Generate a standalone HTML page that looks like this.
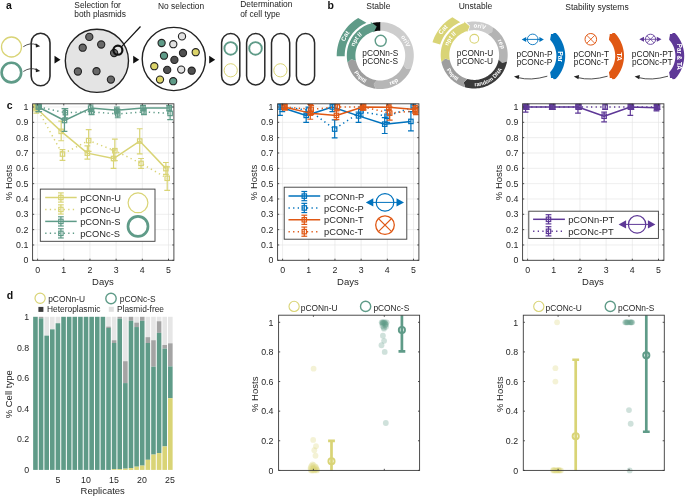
<!DOCTYPE html>
<html><head><meta charset="utf-8"><style>html,body{margin:0;padding:0;background:#fff;width:685px;height:497px;overflow:hidden} svg text{font-family:"Liberation Sans", sans-serif}</style></head>
<body><svg width="685" height="497" viewBox="0 0 685 497" style="display:block;will-change:transform"><text x="6.00" y="8.90" font-size="10.5" text-anchor="start" fill="#111" font-weight="bold" >a</text>
<circle cx="11.5" cy="47" r="10" fill="none" stroke="#d9d476" stroke-width="1.3"/>
<circle cx="11.4" cy="72.6" r="9.8" fill="none" stroke="#5f9b88" stroke-width="2.6"/>
<rect x="31.2" y="33.3" width="18.8" height="52.4" rx="9.4" fill="none" stroke="#2a2a2a" stroke-width="1.6"/>
<path d="M23.3 46.699999999999996 Q30.5 41.9 37 45.099999999999994" fill="none" stroke="#333" stroke-width="0.85"/>
<path d="M40.2 46.199999999999996 L35.6 43.199999999999996 L35.9 47.4 Z" fill="#222"/>
<path d="M23.3 71.5 Q30.5 66.69999999999999 37 69.89999999999999" fill="none" stroke="#333" stroke-width="0.85"/>
<path d="M40.2 71.0 L35.6 68.0 L35.9 72.19999999999999 Z" fill="#222"/>
<path d="M54.5 55.8 L60.5 59.7 L54.5 63.6 Z" fill="#111"/>
<path d="M133.2 55.8 L139.2 59.7 L133.2 63.6 Z" fill="#111"/>
<path d="M209.2 55.8 L215.2 59.7 L209.2 63.6 Z" fill="#111"/>
<circle cx="96.9" cy="60.8" r="31.6" fill="#e4e4e4" stroke="#222" stroke-width="1.4"/>
<circle cx="89.3" cy="36.9" r="3.6" fill="#686868" stroke="#222" stroke-width="1.1"/>
<circle cx="82.7" cy="47.7" r="3.6" fill="#686868" stroke="#222" stroke-width="1.1"/>
<circle cx="101.2" cy="44.5" r="3.6" fill="#686868" stroke="#222" stroke-width="1.1"/>
<circle cx="114.1" cy="53" r="3.6" fill="#686868" stroke="#222" stroke-width="1.1"/>
<circle cx="77.9" cy="71.5" r="3.6" fill="#686868" stroke="#222" stroke-width="1.1"/>
<circle cx="96.5" cy="71.2" r="3.6" fill="#686868" stroke="#222" stroke-width="1.1"/>
<circle cx="110.9" cy="79.6" r="3.6" fill="#686868" stroke="#222" stroke-width="1.1"/>
<circle cx="117.9" cy="50.2" r="4.5" fill="none" stroke="#111" stroke-width="2.2"/>
<line x1="121.4" y1="46.8" x2="140.5" y2="26.5" stroke="#111" stroke-width="1.2"/>
<circle cx="173.8" cy="59" r="31.6" fill="#fff" stroke="#222" stroke-width="1.4"/>
<circle cx="182" cy="36.4" r="3.6" fill="#e2e2e2" stroke="#222" stroke-width="1.1"/>
<circle cx="161.6" cy="43" r="3.6" fill="#5f9b88" stroke="#222" stroke-width="1.1"/>
<circle cx="173.3" cy="44.2" r="3.6" fill="#e2e2e2" stroke="#222" stroke-width="1.1"/>
<circle cx="183" cy="53" r="3.6" fill="#505050" stroke="#222" stroke-width="1.1"/>
<circle cx="195.7" cy="52.2" r="3.6" fill="#dcd46a" stroke="#222" stroke-width="1.1"/>
<circle cx="164" cy="55.7" r="3.6" fill="#5f9b88" stroke="#222" stroke-width="1.1"/>
<circle cx="174.4" cy="59.9" r="3.6" fill="#505050" stroke="#222" stroke-width="1.1"/>
<circle cx="154.3" cy="66.2" r="3.6" fill="#dcd46a" stroke="#222" stroke-width="1.1"/>
<circle cx="167.2" cy="69.9" r="3.6" fill="#505050" stroke="#222" stroke-width="1.1"/>
<circle cx="181.2" cy="69.6" r="3.6" fill="#e2e2e2" stroke="#222" stroke-width="1.1"/>
<circle cx="191.7" cy="70.7" r="3.6" fill="#505050" stroke="#222" stroke-width="1.1"/>
<circle cx="160" cy="79.6" r="3.6" fill="#dcd46a" stroke="#222" stroke-width="1.1"/>
<circle cx="173.2" cy="81.2" r="3.6" fill="#5f9b88" stroke="#222" stroke-width="1.1"/>
<rect x="221.6" y="33.6" width="18.2" height="51.4" rx="9.1" fill="none" stroke="#2a2a2a" stroke-width="1.5"/>
<rect x="246.6" y="33.6" width="18.2" height="51.4" rx="9.1" fill="none" stroke="#2a2a2a" stroke-width="1.5"/>
<rect x="271.5" y="33.6" width="18.2" height="51.4" rx="9.1" fill="none" stroke="#2a2a2a" stroke-width="1.5"/>
<rect x="296.4" y="33.6" width="18.2" height="51.4" rx="9.1" fill="none" stroke="#2a2a2a" stroke-width="1.5"/>
<circle cx="230.7" cy="48.4" r="6.3" fill="none" stroke="#5f9b88" stroke-width="1.9"/>
<circle cx="255.5" cy="48.4" r="6.3" fill="none" stroke="#5f9b88" stroke-width="1.9"/>
<circle cx="230.7" cy="70.3" r="6.6" fill="none" stroke="#d9d476" stroke-width="1"/>
<circle cx="280.4" cy="70.3" r="6.6" fill="none" stroke="#d9d476" stroke-width="1"/>
<text x="74.30" y="7.50" font-size="8.4" text-anchor="start" fill="#222" font-weight="normal" >Selection for</text>
<text x="74.30" y="16.70" font-size="8.4" text-anchor="start" fill="#222" font-weight="normal" >both plasmids</text>
<text x="158.00" y="9.40" font-size="8.4" text-anchor="start" fill="#222" font-weight="normal" >No selection</text>
<text x="240.20" y="6.90" font-size="8.4" text-anchor="start" fill="#222" font-weight="normal" >Determination</text>
<text x="240.20" y="16.60" font-size="8.4" text-anchor="start" fill="#222" font-weight="normal" >of cell type</text>
<text x="327.60" y="8.60" font-size="10.5" text-anchor="start" fill="#111" font-weight="bold" >b</text>
<text x="378.40" y="9.40" font-size="8.5" text-anchor="middle" fill="#222" font-weight="normal" >Stable</text>
<text x="475.50" y="9.20" font-size="8.5" text-anchor="middle" fill="#222" font-weight="normal" >Unstable</text>
<text x="597.00" y="9.70" font-size="8.5" text-anchor="middle" fill="#222" font-weight="normal" >Stability systems</text>
<path d="M380.30 22.10 L382.07 22.15 L383.83 22.29 L385.59 22.52 L387.33 22.85 L389.05 23.26 L390.74 23.77 L392.41 24.36 L394.04 25.05 L395.64 25.82 L397.19 26.67 L398.69 27.60 L400.14 28.61 L401.54 29.70 L402.88 30.85 L404.16 32.08 L405.36 33.37 L406.50 34.73 L407.57 36.14 L408.56 37.61 L409.47 39.12 L410.30 40.69 L411.04 42.29 L411.70 43.93 L412.28 45.61 L412.76 47.31 L413.15 49.04 L413.45 50.78 L413.66 52.54 L413.77 54.30 L413.80 56.07 L413.72 57.84 L413.56 59.60 L413.30 61.35 L412.95 63.09 L412.51 64.80 L411.98 66.49 L411.36 68.15 L406.32 68.86 L403.39 64.93 L403.85 63.70 L404.24 62.44 L404.57 61.17 L404.83 59.88 L405.02 58.58 L405.14 57.27 L405.20 55.95 L405.18 54.64 L405.10 53.32 L404.94 52.02 L404.72 50.72 L404.43 49.44 L404.07 48.17 L403.64 46.93 L403.15 45.71 L402.60 44.52 L401.98 43.35 L401.30 42.23 L400.57 41.14 L399.78 40.09 L398.93 39.08 L398.03 38.12 L397.08 37.21 L396.09 36.35 L395.05 35.54 L393.97 34.79 L392.85 34.09 L391.70 33.46 L390.51 32.89 L389.30 32.38 L388.06 31.94 L386.80 31.56 L385.52 31.25 L384.23 31.01 L382.93 30.84 L381.61 30.73 L380.30 30.70 Z" fill="#cdcdcd"/>
<path d="M411.36 68.15 L410.65 69.78 L409.86 71.37 L408.98 72.91 L408.02 74.41 L406.98 75.85 L405.87 77.24 L404.69 78.57 L403.44 79.83 L402.12 81.02 L400.74 82.14 L399.30 83.19 L397.81 84.16 L396.27 85.05 L394.69 85.85 L393.07 86.57 L391.41 87.21 L389.71 87.75 L388.00 88.20 L386.26 88.57 L384.50 88.84 L382.73 89.01 L380.95 89.09 L379.18 89.08 L377.40 88.97 L375.64 88.77 L373.73 84.05 L376.83 80.26 L378.15 80.41 L379.47 80.49 L380.79 80.50 L382.11 80.43 L383.42 80.30 L384.73 80.10 L386.02 79.83 L387.30 79.50 L388.55 79.09 L389.79 78.62 L391.00 78.09 L392.17 77.49 L393.32 76.83 L394.42 76.11 L395.49 75.33 L396.52 74.49 L397.50 73.61 L398.43 72.67 L399.31 71.69 L400.13 70.65 L400.90 69.58 L401.62 68.47 L402.27 67.32 L402.86 66.14 L403.39 64.93 L406.32 68.86 Z" fill="#b6b6b6"/>
<path d="M375.64 88.77 L373.88 88.48 L372.15 88.09 L370.43 87.61 L368.75 87.04 L367.09 86.39 L365.48 85.64 L363.90 84.81 L362.38 83.90 L360.90 82.91 L359.48 81.84 L358.11 80.70 L356.81 79.48 L355.58 78.20 L354.41 76.86 L353.32 75.45 L352.30 73.99 L351.36 72.48 L350.51 70.92 L349.74 69.32 L349.05 67.68 L348.46 66.00 L347.95 64.29 L347.53 62.57 L351.32 59.16 L355.94 60.78 L356.25 62.06 L356.63 63.33 L357.07 64.58 L357.58 65.80 L358.16 66.99 L358.79 68.15 L359.49 69.27 L360.24 70.36 L361.06 71.40 L361.92 72.40 L362.84 73.35 L363.81 74.26 L364.82 75.10 L365.88 75.90 L366.98 76.64 L368.11 77.31 L369.28 77.93 L370.48 78.48 L371.71 78.97 L372.97 79.40 L374.24 79.75 L375.53 80.04 L376.83 80.26 L373.73 84.05 Z" fill="#9e9e9e"/>
<path d="M371.63 23.24 L373.33 22.83 L375.06 22.51 L376.80 22.28 L378.55 22.15 L380.30 22.10 L380.30 30.70 L379.00 30.73 L377.70 30.84 L376.40 31.01 L375.12 31.24 L373.86 31.55 Z" fill="#0a0a0a"/>
<path d="M347.53 62.57 L347.21 60.80 L346.97 59.02 L346.84 57.23 L346.80 55.43 L346.86 53.64 L347.01 51.85 L347.26 50.07 L347.60 48.31 L348.04 46.57 L348.57 44.85 L349.19 43.17 L349.90 41.52 L350.70 39.91 L351.58 38.35 L352.55 36.83 L353.60 35.37 L354.72 33.97 L355.91 32.63 L357.18 31.36 L358.51 30.15 L359.91 29.02 L361.36 27.97 L362.87 26.99 L364.43 26.10 L366.03 25.29 L367.67 24.57 L369.35 23.94 L371.07 23.40 L370.63 21.86 L376.74 26.62 L373.70 32.59 L373.44 31.66 L372.16 32.07 L370.91 32.54 L369.69 33.07 L368.50 33.67 L367.34 34.34 L366.22 35.06 L365.14 35.85 L364.11 36.69 L363.11 37.58 L362.17 38.53 L361.29 39.52 L360.45 40.57 L359.67 41.65 L358.96 42.78 L358.30 43.94 L357.71 45.13 L357.18 46.36 L356.72 47.61 L356.32 48.89 L356.00 50.18 L355.74 51.49 L355.56 52.81 L355.44 54.14 L355.40 55.48 L355.43 56.81 L355.53 58.14 L355.70 59.46 L355.94 60.78 L351.32 59.16 Z" fill="#5f9b88"/>
<path d="M336.71 56.36 L336.73 54.06 L336.87 51.76 L337.13 49.48 L337.52 47.21 L338.02 44.96 L338.64 42.74 L339.38 40.56 L340.23 38.42 L341.19 36.33 L342.26 34.30 L343.44 32.32 L344.72 30.41 L346.10 28.56 L347.57 26.80 L349.14 25.11 L350.79 23.51 L352.52 21.99 L354.34 20.57 L356.22 19.25 L358.17 18.03 L366.39 22.83 L366.39 22.83 L364.64 23.63 L362.94 24.52 L361.29 25.50 L359.70 26.57 L358.16 27.72 L356.69 28.96 L355.29 30.27 L353.96 31.65 L352.70 33.11 L351.53 34.63 L350.44 36.21 L349.44 37.85 L348.53 39.54 L347.71 41.28 L346.98 43.05 L346.36 44.87 L345.83 46.71 L345.40 48.59 L345.07 50.48 L344.85 52.38 L344.72 54.30 L344.71 56.22 Z" fill="#5f9b88"/>
<path id="tp1" d="M345.97 72.35 A38.2 38.2 0 0 1 376.31 17.61" fill="none"/>
<text font-size="6.3" font-weight="bold" fill="#fff"><textPath href="#tp1" startOffset="50%" text-anchor="middle">Cat</textPath></text>
<path id="tp2" d="M354.63 65.46 A27.5 27.5 0 0 1 379.82 28.10" fill="none"/>
<text font-size="6.0" font-weight="bold" fill="#fff"><textPath href="#tp2" startOffset="50%" text-anchor="middle">npt II</textPath></text>
<path id="tp3" d="M382.70 28.20 A27.5 27.5 0 0 1 405.22 67.22" fill="none"/>
<text font-size="6.0" font-weight="bold" fill="#fff"><textPath href="#tp3" startOffset="50%" text-anchor="middle">oriV</textPath></text>
<path id="tp4" d="M365.61 83.24 A31.3 31.3 0 0 0 411.30 59.96" fill="none"/>
<text font-size="6.0" font-weight="bold" fill="#fff"><textPath href="#tp4" startOffset="50%" text-anchor="middle">rep</textPath></text>
<path id="tp5" d="M349.30 51.24 A31.3 31.3 0 0 0 386.81 86.22" fill="none"/>
<text font-size="5.5" font-weight="bold" fill="#fff"><textPath href="#tp5" startOffset="50%" text-anchor="middle">PnptII</textPath></text>
<circle cx="380.7" cy="40.8" r="5.5" fill="none" stroke="#5f9b88" stroke-width="1.4"/>
<text x="380.30" y="56.40" font-size="8.3" text-anchor="middle" fill="#1a1a1a" font-weight="normal" >pCONn-S</text>
<text x="380.30" y="64.30" font-size="8.3" text-anchor="middle" fill="#1a1a1a" font-weight="normal" >pCONc-S</text>
<path d="M466.66 22.36 L468.42 22.00 L470.19 21.74 L471.98 21.57 L473.77 21.50 L475.56 21.53 L477.35 21.65 L479.13 21.87 L480.90 22.18 L482.64 22.58 L484.37 23.08 L486.06 23.67 L487.72 24.35 L489.34 25.12 L490.92 25.97 L492.45 26.90 L492.18 31.99 L487.76 34.12 L486.62 33.42 L485.45 32.79 L484.25 32.22 L483.02 31.71 L481.76 31.27 L480.48 30.90 L479.18 30.60 L477.87 30.37 L476.54 30.21 L475.21 30.12 L473.88 30.10 L472.55 30.15 L471.22 30.28 L469.90 30.47 L468.60 30.74 L470.14 26.08 Z" fill="#cbcbcb"/>
<path d="M492.45 26.90 L493.93 27.93 L495.36 29.03 L496.73 30.21 L498.04 31.46 L499.27 32.78 L500.43 34.17 L501.52 35.61 L502.52 37.11 L503.45 38.67 L504.29 40.27 L505.04 41.91 L505.70 43.59 L506.27 45.31 L506.74 47.05 L507.12 48.82 L507.41 50.60 L507.60 52.40 L507.69 54.20 L507.68 56.01 L507.58 57.81 L507.38 59.61 L507.08 61.39 L502.27 63.05 L498.64 59.75 L498.86 58.43 L499.01 57.09 L499.09 55.75 L499.09 54.41 L499.02 53.07 L498.88 51.73 L498.67 50.40 L498.39 49.09 L498.03 47.80 L497.61 46.52 L497.12 45.27 L496.56 44.05 L495.94 42.86 L495.25 41.70 L494.51 40.59 L493.70 39.51 L492.84 38.49 L491.92 37.51 L490.95 36.58 L489.93 35.70 L488.87 34.88 L487.76 34.12 L492.18 31.99 Z" fill="#b4b4b4"/>
<path d="M507.08 61.39 L506.70 63.14 L506.21 64.87 L505.64 66.56 L504.98 68.23 L504.23 69.85 L503.39 71.44 L502.47 72.98 L501.47 74.46 L500.39 75.89 L499.23 77.26 L498.01 78.57 L496.71 79.81 L495.36 80.97 L493.94 82.07 L492.46 83.09 L490.93 84.02 L489.36 84.87 L487.74 85.64 L486.08 86.32 L484.39 86.91 L482.67 87.41 L480.93 87.82 L479.16 88.13 L477.38 88.35 L475.60 88.47 L473.80 88.50 L472.01 88.43 L470.23 88.26 L468.46 88.00 L466.70 87.65 L464.97 87.20 L463.74 82.26 L467.34 78.94 L468.63 79.27 L469.93 79.53 L471.25 79.72 L472.57 79.85 L473.91 79.90 L475.24 79.88 L476.57 79.79 L477.89 79.63 L479.20 79.39 L480.50 79.09 L481.77 78.72 L483.03 78.28 L484.26 77.78 L485.47 77.21 L486.64 76.57 L487.77 75.88 L488.87 75.12 L489.92 74.31 L490.93 73.44 L491.90 72.52 L492.81 71.55 L493.67 70.53 L494.47 69.47 L495.21 68.36 L495.90 67.22 L496.52 66.04 L497.08 64.83 L497.57 63.60 L498.00 62.33 L498.35 61.05 L498.64 59.75 L502.27 63.05 Z" fill="#3a3a3a"/>
<path d="M464.97 87.20 L463.24 86.66 L461.54 86.02 L459.88 85.29 L458.27 84.47 L456.70 83.56 L455.18 82.58 L453.71 81.51 L452.31 80.36 L450.97 79.14 L449.70 77.85 L448.50 76.49 L447.38 75.07 L446.33 73.59 L445.37 72.05 L444.49 70.47 L443.69 68.84 L442.99 67.17 L442.38 65.46 L441.86 63.73 L441.43 61.97 L445.22 58.56 L449.84 60.18 L450.16 61.49 L450.55 62.78 L451.00 64.04 L451.52 65.29 L452.11 66.50 L452.77 67.68 L453.48 68.82 L454.26 69.92 L455.10 70.97 L455.99 71.98 L456.93 72.94 L457.93 73.85 L458.97 74.70 L460.06 75.50 L461.19 76.23 L462.36 76.90 L463.56 77.51 L464.79 78.05 L466.05 78.53 L467.34 78.94 L463.74 82.26 Z" fill="#9e9e9e"/>
<path d="M441.43 61.97 L441.11 60.22 L440.88 58.46 L440.74 56.69 L440.70 54.92 L440.75 53.14 L440.90 51.37 L441.14 49.62 L441.47 47.87 L441.89 46.15 L442.40 44.45 L443.01 42.78 L443.70 41.15 L444.48 39.55 L445.34 38.00 L446.28 36.49 L447.30 35.04 L448.39 33.64 L449.56 32.31 L450.79 31.03 L452.10 29.83 L453.46 28.69 L454.88 27.63 L456.36 26.65 L457.89 25.74 L459.46 24.92 L461.07 24.18 L462.72 23.53 L464.41 22.96 L464.00 21.62 L469.63 26.16 L467.17 31.99 L466.92 31.19 L465.67 31.61 L464.44 32.09 L463.24 32.64 L462.07 33.25 L460.94 33.92 L459.84 34.66 L458.78 35.45 L457.77 36.29 L456.80 37.19 L455.88 38.13 L455.02 39.13 L454.20 40.16 L453.44 41.24 L452.75 42.36 L452.11 43.52 L451.53 44.70 L451.02 45.92 L450.57 47.16 L450.18 48.42 L449.87 49.70 L449.62 51.00 L449.45 52.30 L449.34 53.62 L449.30 54.94 L449.33 56.26 L449.43 57.57 L449.60 58.88 L449.84 60.18 L445.22 58.56 Z" fill="#d9d476"/>
<path d="M432.51 42.25 L433.25 40.04 L434.11 37.86 L435.08 35.74 L436.17 33.67 L437.37 31.67 L438.67 29.73 L440.08 27.86 L441.58 26.07 L443.18 24.36 L444.86 22.74 L446.64 21.22 L448.48 19.79 L450.41 18.46 L452.40 17.24 L460.29 22.23 L460.29 22.23 L458.52 23.04 L456.81 23.94 L455.14 24.93 L453.53 26.02 L451.98 27.19 L450.49 28.44 L449.08 29.77 L447.74 31.18 L446.48 32.66 L445.31 34.20 L444.22 35.81 L443.22 37.47 L442.31 39.18 L441.49 40.95 L440.77 42.75 L440.16 44.59 Z" fill="#d9d476"/>
<path id="tp6" d="M437.48 65.53 A38.2 38.2 0 0 1 476.86 16.89" fill="none"/>
<text font-size="6.3" font-weight="bold" fill="#fff"><textPath href="#tp6" startOffset="50%" text-anchor="middle">Cat</textPath></text>
<path id="tp7" d="M448.53 64.86 A27.5 27.5 0 0 1 473.72 27.50" fill="none"/>
<text font-size="6.0" font-weight="bold" fill="#fff"><textPath href="#tp7" startOffset="50%" text-anchor="middle">npt II</textPath></text>
<path id="tp8" d="M455.10 35.22 A27.5 27.5 0 0 1 499.32 43.81" fill="none"/>
<text font-size="6.0" font-weight="bold" fill="#fff"><textPath href="#tp8" startOffset="50%" text-anchor="middle">oriV</textPath></text>
<path id="tp9" d="M480.39 28.20 A27.5 27.5 0 0 1 497.26 69.98" fill="none"/>
<text font-size="6.0" font-weight="bold" fill="#fff"><textPath href="#tp9" startOffset="50%" text-anchor="middle">rep</textPath></text>
<path id="tp10" d="M461.97 83.81 A31.3 31.3 0 0 0 505.46 56.64" fill="none"/>
<text font-size="5.6" font-weight="bold" fill="#fff"><textPath href="#tp10" startOffset="50%" text-anchor="middle">random DNA</textPath></text>
<path id="tp11" d="M443.70 47.96 A31.3 31.3 0 0 0 478.01 86.07" fill="none"/>
<text font-size="5.5" font-weight="bold" fill="#fff"><textPath href="#tp11" startOffset="50%" text-anchor="middle">PnptII</textPath></text>
<circle cx="474.3" cy="38.8" r="4.4" fill="none" stroke="#d9d476" stroke-width="1.1"/>
<text x="475.00" y="56.10" font-size="8.3" text-anchor="middle" fill="#1a1a1a" font-weight="normal" >pCONn-U</text>
<text x="475.00" y="64.10" font-size="8.3" text-anchor="middle" fill="#1a1a1a" font-weight="normal" >pCONc-U</text>
<path d="M550.13 39.67 L550.43 37.38 L550.82 35.81 L550.95 34.05 L552.96 33.99 L553.85 32.89 L555.88 32.94 L555.88 32.94 L557.07 34.23 L558.19 35.59 L559.23 37.01 L560.20 38.47 L561.09 39.99 L561.89 41.55 L562.62 43.16 L563.25 44.80 L563.80 46.47 L564.26 48.16 L564.63 49.88 L564.91 51.62 L565.10 53.37 L565.19 55.12 L565.19 56.88 L565.10 58.63 L564.91 60.38 L564.63 62.12 L564.26 63.84 L563.80 65.53 L563.25 67.20 L562.62 68.84 L561.89 70.45 L561.09 72.01 L560.20 73.53 L559.23 74.99 L558.19 76.41 L557.07 77.77 L555.88 79.06 L555.88 79.06 L553.77 79.18 L552.93 78.05 L550.95 77.95 L550.86 76.15 L550.49 74.56 L550.13 72.33 L550.13 72.33 L550.96 71.36 L551.74 70.34 L552.46 69.29 L553.13 68.20 L553.74 67.08 L554.29 65.92 L554.78 64.74 L555.21 63.54 L555.57 62.32 L555.87 61.07 L556.10 59.82 L556.27 58.55 L556.37 57.28 L556.40 56.00 L556.37 54.72 L556.27 53.45 L556.10 52.18 L555.87 50.93 L555.57 49.68 L555.21 48.46 L554.78 47.26 L554.29 46.08 L553.74 44.92 L553.13 43.80 L552.46 42.71 L551.74 41.66 L550.96 40.64 L550.13 39.67 Z" fill="#0072bd"/>
<text x="0" y="0" font-size="6.9" font-weight="bold" fill="#fff" text-anchor="middle" transform="translate(560.39 56.74) rotate(90) translate(0 2.48)">Par</text>
<text x="534.50" y="56.50" font-size="8.3" text-anchor="middle" fill="#1a1a1a" font-weight="normal" >pCONn-P</text>
<text x="534.50" y="65.00" font-size="8.3" text-anchor="middle" fill="#1a1a1a" font-weight="normal" >pCONc-P</text>
<path d="M547.3 76.2 Q530.65 81 518.0 77.6" fill="none" stroke="#222" stroke-width="0.8"/>
<path d="M514.0 76.6 L519.3 74.9 L518.6 79.3 Z" fill="#222"/>
<path d="M608.93 39.67 L609.23 37.38 L609.62 35.81 L609.75 34.05 L611.76 33.99 L612.65 32.89 L614.68 32.94 L614.68 32.94 L615.87 34.23 L616.99 35.59 L618.03 37.01 L619.00 38.47 L619.89 39.99 L620.69 41.55 L621.42 43.16 L622.05 44.80 L622.60 46.47 L623.06 48.16 L623.43 49.88 L623.71 51.62 L623.90 53.37 L623.99 55.12 L623.99 56.88 L623.90 58.63 L623.71 60.38 L623.43 62.12 L623.06 63.84 L622.60 65.53 L622.05 67.20 L621.42 68.84 L620.69 70.45 L619.89 72.01 L619.00 73.53 L618.03 74.99 L616.99 76.41 L615.87 77.77 L614.68 79.06 L614.68 79.06 L612.57 79.18 L611.73 78.05 L609.75 77.95 L609.66 76.15 L609.29 74.56 L608.93 72.33 L608.93 72.33 L609.76 71.36 L610.54 70.34 L611.26 69.29 L611.93 68.20 L612.54 67.08 L613.09 65.92 L613.58 64.74 L614.01 63.54 L614.37 62.32 L614.67 61.07 L614.90 59.82 L615.07 58.55 L615.17 57.28 L615.20 56.00 L615.17 54.72 L615.07 53.45 L614.90 52.18 L614.67 50.93 L614.37 49.68 L614.01 48.46 L613.58 47.26 L613.09 46.08 L612.54 44.92 L611.93 43.80 L611.26 42.71 L610.54 41.66 L609.76 40.64 L608.93 39.67 Z" fill="#e05814"/>
<text x="0" y="0" font-size="6.9" font-weight="bold" fill="#fff" text-anchor="middle" transform="translate(619.19 56.74) rotate(90) translate(0 2.48)">TA</text>
<text x="591.30" y="56.50" font-size="8.3" text-anchor="middle" fill="#1a1a1a" font-weight="normal" >pCONn-T</text>
<text x="591.30" y="65.00" font-size="8.3" text-anchor="middle" fill="#1a1a1a" font-weight="normal" >pCONc-T</text>
<path d="M607.6 76.2 Q590.7 81 577.8 77.6" fill="none" stroke="#222" stroke-width="0.8"/>
<path d="M573.8 76.6 L579.0999999999999 74.9 L578.4 79.3 Z" fill="#222"/>
<path d="M669.13 39.67 L669.43 37.38 L669.82 35.81 L669.95 34.05 L671.96 33.99 L672.85 32.89 L674.88 32.94 L674.88 32.94 L676.07 34.23 L677.19 35.59 L678.23 37.01 L679.20 38.47 L680.09 39.99 L680.89 41.55 L681.62 43.16 L682.25 44.80 L682.80 46.47 L683.26 48.16 L683.63 49.88 L683.91 51.62 L684.10 53.37 L684.19 55.12 L684.19 56.88 L684.10 58.63 L683.91 60.38 L683.63 62.12 L683.26 63.84 L682.80 65.53 L682.25 67.20 L681.62 68.84 L680.89 70.45 L680.09 72.01 L679.20 73.53 L678.23 74.99 L677.19 76.41 L676.07 77.77 L674.88 79.06 L674.88 79.06 L672.77 79.18 L671.93 78.05 L669.95 77.95 L669.86 76.15 L669.49 74.56 L669.13 72.33 L669.13 72.33 L669.96 71.36 L670.74 70.34 L671.46 69.29 L672.13 68.20 L672.74 67.08 L673.29 65.92 L673.78 64.74 L674.21 63.54 L674.57 62.32 L674.87 61.07 L675.10 59.82 L675.27 58.55 L675.37 57.28 L675.40 56.00 L675.37 54.72 L675.27 53.45 L675.10 52.18 L674.87 50.93 L674.57 49.68 L674.21 48.46 L673.78 47.26 L673.29 46.08 L672.74 44.92 L672.13 43.80 L671.46 42.71 L670.74 41.66 L669.96 40.64 L669.13 39.67 Z" fill="#5e3897"/>
<text x="0" y="0" font-size="6.3" font-weight="bold" fill="#fff" text-anchor="middle" transform="translate(679.39 56.74) rotate(90) translate(0 2.27)">Par &amp; TA</text>
<text x="652.30" y="56.50" font-size="8.3" text-anchor="middle" fill="#1a1a1a" font-weight="normal" >pCONn-PT</text>
<text x="652.30" y="65.00" font-size="8.3" text-anchor="middle" fill="#1a1a1a" font-weight="normal" >pCONc-PT</text>
<path d="M668.0 76.2 Q651.3 81 638.6 77.6" fill="none" stroke="#222" stroke-width="0.8"/>
<path d="M634.6 76.6 L639.9 74.9 L639.2 79.3 Z" fill="#222"/>
<circle cx="532.7" cy="39.4" r="5.3" fill="none" stroke="#0072bd" stroke-width="0.9"/>
<line x1="525.5" y1="39.4" x2="540.2" y2="39.4" stroke="#0072bd" stroke-width="0.9"/>
<path d="M521.7 39.4 L526.2 36.9 L526.2 41.9 Z M543.9 39.4 L539.4 36.9 L539.4 41.9 Z" fill="#0072bd"/>
<circle cx="590.8" cy="39.3" r="5.8" fill="none" stroke="#e05814" stroke-width="1"/>
<path d="M586.7 35.2 L594.9 43.4 M594.9 35.2 L586.7 43.4" stroke="#e05814" stroke-width="0.9"/>
<circle cx="650.5" cy="39.3" r="5.1" fill="none" stroke="#5e3897" stroke-width="0.9"/>
<path d="M646.9 35.7 L654.1 42.9 M654.1 35.7 L646.9 42.9" stroke="#5e3897" stroke-width="0.8"/>
<line x1="643.5" y1="39.3" x2="657.5" y2="39.3" stroke="#5e3897" stroke-width="0.8"/>
<path d="M639.3 39.3 L644 36.8 L644 41.8 Z M661.5 39.3 L656.8 36.8 L656.8 41.8 Z" fill="#5e3897"/>
<text x="6.80" y="109.20" font-size="10.5" text-anchor="start" fill="#111" font-weight="bold" >c</text>
<clipPath id="clipc0"><rect x="32.6" y="103.8" width="141.3" height="156.5"/></clipPath>
<line x1="32.6" y1="260.30" x2="173.9" y2="260.30" stroke="#e3e3e3" stroke-width="0.6"/>
<line x1="32.6" y1="244.97" x2="173.9" y2="244.97" stroke="#e3e3e3" stroke-width="0.6"/>
<line x1="32.6" y1="229.64" x2="173.9" y2="229.64" stroke="#e3e3e3" stroke-width="0.6"/>
<line x1="32.6" y1="214.31" x2="173.9" y2="214.31" stroke="#e3e3e3" stroke-width="0.6"/>
<line x1="32.6" y1="198.98" x2="173.9" y2="198.98" stroke="#e3e3e3" stroke-width="0.6"/>
<line x1="32.6" y1="183.65" x2="173.9" y2="183.65" stroke="#e3e3e3" stroke-width="0.6"/>
<line x1="32.6" y1="168.32" x2="173.9" y2="168.32" stroke="#e3e3e3" stroke-width="0.6"/>
<line x1="32.6" y1="152.99" x2="173.9" y2="152.99" stroke="#e3e3e3" stroke-width="0.6"/>
<line x1="32.6" y1="137.66" x2="173.9" y2="137.66" stroke="#e3e3e3" stroke-width="0.6"/>
<line x1="32.6" y1="122.33" x2="173.9" y2="122.33" stroke="#e3e3e3" stroke-width="0.6"/>
<line x1="32.6" y1="107.00" x2="173.9" y2="107.00" stroke="#e3e3e3" stroke-width="0.6"/>
<line x1="37.60" y1="103.8" x2="37.60" y2="260.3" stroke="#e3e3e3" stroke-width="0.6"/>
<line x1="63.78" y1="103.8" x2="63.78" y2="260.3" stroke="#e3e3e3" stroke-width="0.6"/>
<line x1="89.96" y1="103.8" x2="89.96" y2="260.3" stroke="#e3e3e3" stroke-width="0.6"/>
<line x1="116.14" y1="103.8" x2="116.14" y2="260.3" stroke="#e3e3e3" stroke-width="0.6"/>
<line x1="142.32" y1="103.8" x2="142.32" y2="260.3" stroke="#e3e3e3" stroke-width="0.6"/>
<line x1="168.50" y1="103.8" x2="168.50" y2="260.3" stroke="#e3e3e3" stroke-width="0.6"/>
<g clip-path="url(#clipc0)">
<polyline points="36.30,107.00 62.48,154.06 88.66,140.57 114.84,150.69 141.02,163.41 167.20,178.28" fill="none" stroke="#d9d476" stroke-width="1.5" stroke-dasharray="1.3 3.3" stroke-linejoin="round"/>
<line x1="36.30" y1="113.13" x2="36.30" y2="107.00" stroke="#d9d476" stroke-width="1.2"/>
<line x1="33.40" y1="113.13" x2="39.20" y2="113.13" stroke="#d9d476" stroke-width="1.2"/>
<line x1="33.40" y1="107.00" x2="39.20" y2="107.00" stroke="#d9d476" stroke-width="1.2"/>
<rect x="34.10" y="104.80" width="4.4" height="4.4" fill="none" stroke="#d9d476" stroke-width="1.2"/>
<line x1="62.48" y1="160.35" x2="62.48" y2="149.62" stroke="#d9d476" stroke-width="1.2"/>
<line x1="59.58" y1="160.35" x2="65.38" y2="160.35" stroke="#d9d476" stroke-width="1.2"/>
<line x1="59.58" y1="149.62" x2="65.38" y2="149.62" stroke="#d9d476" stroke-width="1.2"/>
<rect x="60.28" y="151.86" width="4.4" height="4.4" fill="none" stroke="#d9d476" stroke-width="1.2"/>
<line x1="88.66" y1="151.46" x2="88.66" y2="129.54" stroke="#d9d476" stroke-width="1.2"/>
<line x1="85.76" y1="151.46" x2="91.56" y2="151.46" stroke="#d9d476" stroke-width="1.2"/>
<line x1="85.76" y1="129.54" x2="91.56" y2="129.54" stroke="#d9d476" stroke-width="1.2"/>
<rect x="86.46" y="138.37" width="4.4" height="4.4" fill="none" stroke="#d9d476" stroke-width="1.2"/>
<line x1="114.84" y1="160.66" x2="114.84" y2="139.19" stroke="#d9d476" stroke-width="1.2"/>
<line x1="111.94" y1="160.66" x2="117.74" y2="160.66" stroke="#d9d476" stroke-width="1.2"/>
<line x1="111.94" y1="139.19" x2="117.74" y2="139.19" stroke="#d9d476" stroke-width="1.2"/>
<rect x="112.64" y="148.49" width="4.4" height="4.4" fill="none" stroke="#d9d476" stroke-width="1.2"/>
<line x1="141.02" y1="168.32" x2="141.02" y2="158.51" stroke="#d9d476" stroke-width="1.2"/>
<line x1="138.12" y1="168.32" x2="143.92" y2="168.32" stroke="#d9d476" stroke-width="1.2"/>
<line x1="138.12" y1="158.51" x2="143.92" y2="158.51" stroke="#d9d476" stroke-width="1.2"/>
<rect x="138.82" y="161.21" width="4.4" height="4.4" fill="none" stroke="#d9d476" stroke-width="1.2"/>
<line x1="167.20" y1="190.40" x2="167.20" y2="166.79" stroke="#d9d476" stroke-width="1.2"/>
<line x1="164.30" y1="190.40" x2="170.10" y2="190.40" stroke="#d9d476" stroke-width="1.2"/>
<line x1="164.30" y1="166.79" x2="170.10" y2="166.79" stroke="#d9d476" stroke-width="1.2"/>
<rect x="165.00" y="176.08" width="4.4" height="4.4" fill="none" stroke="#d9d476" stroke-width="1.2"/>
</g>
<g clip-path="url(#clipc0)">
<polyline points="35.00,107.00 61.18,131.37 87.36,153.14 113.54,158.51 139.72,141.03 165.90,168.63" fill="none" stroke="#d9d476" stroke-width="1.5"  stroke-linejoin="round"/>
<line x1="35.00" y1="110.83" x2="35.00" y2="105.47" stroke="#d9d476" stroke-width="1.2"/>
<line x1="32.10" y1="110.83" x2="37.90" y2="110.83" stroke="#d9d476" stroke-width="1.2"/>
<line x1="32.10" y1="105.47" x2="37.90" y2="105.47" stroke="#d9d476" stroke-width="1.2"/>
<rect x="32.80" y="104.80" width="4.4" height="4.4" fill="none" stroke="#d9d476" stroke-width="1.2"/>
<line x1="61.18" y1="140.73" x2="61.18" y2="121.10" stroke="#d9d476" stroke-width="1.2"/>
<line x1="58.28" y1="140.73" x2="64.08" y2="140.73" stroke="#d9d476" stroke-width="1.2"/>
<line x1="58.28" y1="121.10" x2="64.08" y2="121.10" stroke="#d9d476" stroke-width="1.2"/>
<rect x="58.98" y="129.17" width="4.4" height="4.4" fill="none" stroke="#d9d476" stroke-width="1.2"/>
<line x1="87.36" y1="159.12" x2="87.36" y2="145.78" stroke="#d9d476" stroke-width="1.2"/>
<line x1="84.46" y1="159.12" x2="90.26" y2="159.12" stroke="#d9d476" stroke-width="1.2"/>
<line x1="84.46" y1="145.78" x2="90.26" y2="145.78" stroke="#d9d476" stroke-width="1.2"/>
<rect x="85.16" y="150.94" width="4.4" height="4.4" fill="none" stroke="#d9d476" stroke-width="1.2"/>
<line x1="113.54" y1="168.32" x2="113.54" y2="149.92" stroke="#d9d476" stroke-width="1.2"/>
<line x1="110.64" y1="168.32" x2="116.44" y2="168.32" stroke="#d9d476" stroke-width="1.2"/>
<line x1="110.64" y1="149.92" x2="116.44" y2="149.92" stroke="#d9d476" stroke-width="1.2"/>
<rect x="111.34" y="156.31" width="4.4" height="4.4" fill="none" stroke="#d9d476" stroke-width="1.2"/>
<line x1="139.72" y1="153.91" x2="139.72" y2="128.77" stroke="#d9d476" stroke-width="1.2"/>
<line x1="136.82" y1="153.91" x2="142.62" y2="153.91" stroke="#d9d476" stroke-width="1.2"/>
<line x1="136.82" y1="128.77" x2="142.62" y2="128.77" stroke="#d9d476" stroke-width="1.2"/>
<rect x="137.52" y="138.83" width="4.4" height="4.4" fill="none" stroke="#d9d476" stroke-width="1.2"/>
<line x1="165.90" y1="174.45" x2="165.90" y2="162.49" stroke="#d9d476" stroke-width="1.2"/>
<line x1="163.00" y1="174.45" x2="168.80" y2="174.45" stroke="#d9d476" stroke-width="1.2"/>
<line x1="163.00" y1="162.49" x2="168.80" y2="162.49" stroke="#d9d476" stroke-width="1.2"/>
<rect x="163.70" y="166.43" width="4.4" height="4.4" fill="none" stroke="#d9d476" stroke-width="1.2"/>
</g>
<g clip-path="url(#clipc0)">
<polyline points="39.20,107.00 65.38,112.67 91.56,111.91 117.74,113.90 143.92,111.91 170.10,113.44" fill="none" stroke="#5f9b88" stroke-width="1.5" stroke-dasharray="1.3 3.3" stroke-linejoin="round"/>
<line x1="39.20" y1="111.60" x2="39.20" y2="103.93" stroke="#5f9b88" stroke-width="1.2"/>
<line x1="36.30" y1="111.60" x2="42.10" y2="111.60" stroke="#5f9b88" stroke-width="1.2"/>
<line x1="36.30" y1="103.93" x2="42.10" y2="103.93" stroke="#5f9b88" stroke-width="1.2"/>
<rect x="37.00" y="104.80" width="4.4" height="4.4" fill="none" stroke="#5f9b88" stroke-width="1.2"/>
<line x1="65.38" y1="117.73" x2="65.38" y2="108.53" stroke="#5f9b88" stroke-width="1.2"/>
<line x1="62.48" y1="117.73" x2="68.28" y2="117.73" stroke="#5f9b88" stroke-width="1.2"/>
<line x1="62.48" y1="108.53" x2="68.28" y2="108.53" stroke="#5f9b88" stroke-width="1.2"/>
<rect x="63.18" y="110.47" width="4.4" height="4.4" fill="none" stroke="#5f9b88" stroke-width="1.2"/>
<line x1="91.56" y1="114.67" x2="91.56" y2="108.53" stroke="#5f9b88" stroke-width="1.2"/>
<line x1="88.66" y1="114.67" x2="94.46" y2="114.67" stroke="#5f9b88" stroke-width="1.2"/>
<line x1="88.66" y1="108.53" x2="94.46" y2="108.53" stroke="#5f9b88" stroke-width="1.2"/>
<rect x="89.36" y="109.71" width="4.4" height="4.4" fill="none" stroke="#5f9b88" stroke-width="1.2"/>
<line x1="117.74" y1="117.73" x2="117.74" y2="109.30" stroke="#5f9b88" stroke-width="1.2"/>
<line x1="114.84" y1="117.73" x2="120.64" y2="117.73" stroke="#5f9b88" stroke-width="1.2"/>
<line x1="114.84" y1="109.30" x2="120.64" y2="109.30" stroke="#5f9b88" stroke-width="1.2"/>
<rect x="115.54" y="111.70" width="4.4" height="4.4" fill="none" stroke="#5f9b88" stroke-width="1.2"/>
<line x1="143.92" y1="114.67" x2="143.92" y2="108.53" stroke="#5f9b88" stroke-width="1.2"/>
<line x1="141.02" y1="114.67" x2="146.82" y2="114.67" stroke="#5f9b88" stroke-width="1.2"/>
<line x1="141.02" y1="108.53" x2="146.82" y2="108.53" stroke="#5f9b88" stroke-width="1.2"/>
<rect x="141.72" y="109.71" width="4.4" height="4.4" fill="none" stroke="#5f9b88" stroke-width="1.2"/>
<line x1="170.10" y1="119.57" x2="170.10" y2="107.00" stroke="#5f9b88" stroke-width="1.2"/>
<line x1="167.20" y1="119.57" x2="173.00" y2="119.57" stroke="#5f9b88" stroke-width="1.2"/>
<line x1="167.20" y1="107.00" x2="173.00" y2="107.00" stroke="#5f9b88" stroke-width="1.2"/>
<rect x="167.90" y="111.24" width="4.4" height="4.4" fill="none" stroke="#5f9b88" stroke-width="1.2"/>
</g>
<g clip-path="url(#clipc0)">
<polyline points="38.30,107.00 64.48,120.49 90.66,108.07 116.84,110.37 143.02,108.07 169.20,108.07" fill="none" stroke="#5f9b88" stroke-width="1.5"  stroke-linejoin="round"/>
<line x1="38.30" y1="111.60" x2="38.30" y2="103.93" stroke="#5f9b88" stroke-width="1.2"/>
<line x1="35.40" y1="111.60" x2="41.20" y2="111.60" stroke="#5f9b88" stroke-width="1.2"/>
<line x1="35.40" y1="103.93" x2="41.20" y2="103.93" stroke="#5f9b88" stroke-width="1.2"/>
<rect x="36.10" y="104.80" width="4.4" height="4.4" fill="none" stroke="#5f9b88" stroke-width="1.2"/>
<line x1="64.48" y1="131.37" x2="64.48" y2="108.53" stroke="#5f9b88" stroke-width="1.2"/>
<line x1="61.58" y1="131.37" x2="67.38" y2="131.37" stroke="#5f9b88" stroke-width="1.2"/>
<line x1="61.58" y1="108.53" x2="67.38" y2="108.53" stroke="#5f9b88" stroke-width="1.2"/>
<rect x="62.28" y="118.29" width="4.4" height="4.4" fill="none" stroke="#5f9b88" stroke-width="1.2"/>
<line x1="90.66" y1="111.60" x2="90.66" y2="103.93" stroke="#5f9b88" stroke-width="1.2"/>
<line x1="87.76" y1="111.60" x2="93.56" y2="111.60" stroke="#5f9b88" stroke-width="1.2"/>
<line x1="87.76" y1="103.93" x2="93.56" y2="103.93" stroke="#5f9b88" stroke-width="1.2"/>
<rect x="88.46" y="105.87" width="4.4" height="4.4" fill="none" stroke="#5f9b88" stroke-width="1.2"/>
<line x1="116.84" y1="113.90" x2="116.84" y2="107.00" stroke="#5f9b88" stroke-width="1.2"/>
<line x1="113.94" y1="113.90" x2="119.74" y2="113.90" stroke="#5f9b88" stroke-width="1.2"/>
<line x1="113.94" y1="107.00" x2="119.74" y2="107.00" stroke="#5f9b88" stroke-width="1.2"/>
<rect x="114.64" y="108.17" width="4.4" height="4.4" fill="none" stroke="#5f9b88" stroke-width="1.2"/>
<line x1="143.02" y1="110.83" x2="143.02" y2="105.47" stroke="#5f9b88" stroke-width="1.2"/>
<line x1="140.12" y1="110.83" x2="145.92" y2="110.83" stroke="#5f9b88" stroke-width="1.2"/>
<line x1="140.12" y1="105.47" x2="145.92" y2="105.47" stroke="#5f9b88" stroke-width="1.2"/>
<rect x="140.82" y="105.87" width="4.4" height="4.4" fill="none" stroke="#5f9b88" stroke-width="1.2"/>
<line x1="169.20" y1="110.83" x2="169.20" y2="105.47" stroke="#5f9b88" stroke-width="1.2"/>
<line x1="166.30" y1="110.83" x2="172.10" y2="110.83" stroke="#5f9b88" stroke-width="1.2"/>
<line x1="166.30" y1="105.47" x2="172.10" y2="105.47" stroke="#5f9b88" stroke-width="1.2"/>
<rect x="167.00" y="105.87" width="4.4" height="4.4" fill="none" stroke="#5f9b88" stroke-width="1.2"/>
</g>
<rect x="32.6" y="103.8" width="141.3" height="156.5" fill="none" stroke="#3a3a3a" stroke-width="0.9"/>
<line x1="32.6" y1="260.30" x2="34.2" y2="260.30" stroke="#3a3a3a" stroke-width="0.9"/>
<line x1="172.3" y1="260.30" x2="173.9" y2="260.30" stroke="#3a3a3a" stroke-width="0.9"/>
<text x="28.30" y="263.30" font-size="8.8" text-anchor="end" fill="#262626" font-weight="normal" >0</text>
<line x1="32.6" y1="244.97" x2="34.2" y2="244.97" stroke="#3a3a3a" stroke-width="0.9"/>
<line x1="172.3" y1="244.97" x2="173.9" y2="244.97" stroke="#3a3a3a" stroke-width="0.9"/>
<text x="28.30" y="247.97" font-size="8.8" text-anchor="end" fill="#262626" font-weight="normal" >0.1</text>
<line x1="32.6" y1="229.64" x2="34.2" y2="229.64" stroke="#3a3a3a" stroke-width="0.9"/>
<line x1="172.3" y1="229.64" x2="173.9" y2="229.64" stroke="#3a3a3a" stroke-width="0.9"/>
<text x="28.30" y="232.64" font-size="8.8" text-anchor="end" fill="#262626" font-weight="normal" >0.2</text>
<line x1="32.6" y1="214.31" x2="34.2" y2="214.31" stroke="#3a3a3a" stroke-width="0.9"/>
<line x1="172.3" y1="214.31" x2="173.9" y2="214.31" stroke="#3a3a3a" stroke-width="0.9"/>
<text x="28.30" y="217.31" font-size="8.8" text-anchor="end" fill="#262626" font-weight="normal" >0.3</text>
<line x1="32.6" y1="198.98" x2="34.2" y2="198.98" stroke="#3a3a3a" stroke-width="0.9"/>
<line x1="172.3" y1="198.98" x2="173.9" y2="198.98" stroke="#3a3a3a" stroke-width="0.9"/>
<text x="28.30" y="201.98" font-size="8.8" text-anchor="end" fill="#262626" font-weight="normal" >0.4</text>
<line x1="32.6" y1="183.65" x2="34.2" y2="183.65" stroke="#3a3a3a" stroke-width="0.9"/>
<line x1="172.3" y1="183.65" x2="173.9" y2="183.65" stroke="#3a3a3a" stroke-width="0.9"/>
<text x="28.30" y="186.65" font-size="8.8" text-anchor="end" fill="#262626" font-weight="normal" >0.5</text>
<line x1="32.6" y1="168.32" x2="34.2" y2="168.32" stroke="#3a3a3a" stroke-width="0.9"/>
<line x1="172.3" y1="168.32" x2="173.9" y2="168.32" stroke="#3a3a3a" stroke-width="0.9"/>
<text x="28.30" y="171.32" font-size="8.8" text-anchor="end" fill="#262626" font-weight="normal" >0.6</text>
<line x1="32.6" y1="152.99" x2="34.2" y2="152.99" stroke="#3a3a3a" stroke-width="0.9"/>
<line x1="172.3" y1="152.99" x2="173.9" y2="152.99" stroke="#3a3a3a" stroke-width="0.9"/>
<text x="28.30" y="155.99" font-size="8.8" text-anchor="end" fill="#262626" font-weight="normal" >0.7</text>
<line x1="32.6" y1="137.66" x2="34.2" y2="137.66" stroke="#3a3a3a" stroke-width="0.9"/>
<line x1="172.3" y1="137.66" x2="173.9" y2="137.66" stroke="#3a3a3a" stroke-width="0.9"/>
<text x="28.30" y="140.66" font-size="8.8" text-anchor="end" fill="#262626" font-weight="normal" >0.8</text>
<line x1="32.6" y1="122.33" x2="34.2" y2="122.33" stroke="#3a3a3a" stroke-width="0.9"/>
<line x1="172.3" y1="122.33" x2="173.9" y2="122.33" stroke="#3a3a3a" stroke-width="0.9"/>
<text x="28.30" y="125.33" font-size="8.8" text-anchor="end" fill="#262626" font-weight="normal" >0.9</text>
<line x1="32.6" y1="107.00" x2="34.2" y2="107.00" stroke="#3a3a3a" stroke-width="0.9"/>
<line x1="172.3" y1="107.00" x2="173.9" y2="107.00" stroke="#3a3a3a" stroke-width="0.9"/>
<text x="28.30" y="110.00" font-size="8.8" text-anchor="end" fill="#262626" font-weight="normal" >1</text>
<line x1="37.60" y1="260.3" x2="37.60" y2="258.7" stroke="#3a3a3a" stroke-width="0.9"/>
<line x1="37.60" y1="103.8" x2="37.60" y2="105.39999999999999" stroke="#3a3a3a" stroke-width="0.9"/>
<text x="37.60" y="273.20" font-size="8.8" text-anchor="middle" fill="#262626" font-weight="normal" >0</text>
<line x1="63.78" y1="260.3" x2="63.78" y2="258.7" stroke="#3a3a3a" stroke-width="0.9"/>
<line x1="63.78" y1="103.8" x2="63.78" y2="105.39999999999999" stroke="#3a3a3a" stroke-width="0.9"/>
<text x="63.78" y="273.20" font-size="8.8" text-anchor="middle" fill="#262626" font-weight="normal" >1</text>
<line x1="89.96" y1="260.3" x2="89.96" y2="258.7" stroke="#3a3a3a" stroke-width="0.9"/>
<line x1="89.96" y1="103.8" x2="89.96" y2="105.39999999999999" stroke="#3a3a3a" stroke-width="0.9"/>
<text x="89.96" y="273.20" font-size="8.8" text-anchor="middle" fill="#262626" font-weight="normal" >2</text>
<line x1="116.14" y1="260.3" x2="116.14" y2="258.7" stroke="#3a3a3a" stroke-width="0.9"/>
<line x1="116.14" y1="103.8" x2="116.14" y2="105.39999999999999" stroke="#3a3a3a" stroke-width="0.9"/>
<text x="116.14" y="273.20" font-size="8.8" text-anchor="middle" fill="#262626" font-weight="normal" >3</text>
<line x1="142.32" y1="260.3" x2="142.32" y2="258.7" stroke="#3a3a3a" stroke-width="0.9"/>
<line x1="142.32" y1="103.8" x2="142.32" y2="105.39999999999999" stroke="#3a3a3a" stroke-width="0.9"/>
<text x="142.32" y="273.20" font-size="8.8" text-anchor="middle" fill="#262626" font-weight="normal" >4</text>
<line x1="168.50" y1="260.3" x2="168.50" y2="258.7" stroke="#3a3a3a" stroke-width="0.9"/>
<line x1="168.50" y1="103.8" x2="168.50" y2="105.39999999999999" stroke="#3a3a3a" stroke-width="0.9"/>
<text x="168.50" y="273.20" font-size="8.8" text-anchor="middle" fill="#262626" font-weight="normal" >5</text>
<text x="102.85" y="284.80" font-size="9.5" text-anchor="middle" fill="#262626" font-weight="normal" >Days</text>
<text x="0" y="0" font-size="9.5" text-anchor="middle" fill="#262626" transform="translate(11.8 182.5) rotate(-90)">% Hosts</text>
<rect x="40.3" y="189.1" width="114.7" height="52.2" fill="#fff" stroke="#3a3a3a" stroke-width="0.9"/>
<line x1="45.2" y1="197.5" x2="76.7" y2="197.5" stroke="#d9d476" stroke-width="1.5" />
<line x1="60.9" y1="192.9" x2="60.9" y2="202.1" stroke="#d9d476" stroke-width="1.2"/>
<line x1="58.0" y1="192.9" x2="63.8" y2="192.9" stroke="#d9d476" stroke-width="1.2"/>
<line x1="58.0" y1="202.1" x2="63.8" y2="202.1" stroke="#d9d476" stroke-width="1.2"/>
<rect x="58.699999999999996" y="195.3" width="4.4" height="4.4" fill="none" stroke="#d9d476" stroke-width="1.2"/>
<text x="80.20" y="201.00" font-size="9.3" text-anchor="start" fill="#262626" font-weight="normal" >pCONn-U</text>
<line x1="45.2" y1="209.45" x2="76.7" y2="209.45" stroke="#d9d476" stroke-width="1.5" stroke-dasharray="1.3 3.3"/>
<line x1="60.9" y1="204.85" x2="60.9" y2="214.04999999999998" stroke="#d9d476" stroke-width="1.2"/>
<line x1="58.0" y1="204.85" x2="63.8" y2="204.85" stroke="#d9d476" stroke-width="1.2"/>
<line x1="58.0" y1="214.04999999999998" x2="63.8" y2="214.04999999999998" stroke="#d9d476" stroke-width="1.2"/>
<rect x="58.699999999999996" y="207.25" width="4.4" height="4.4" fill="none" stroke="#d9d476" stroke-width="1.2"/>
<text x="80.20" y="212.95" font-size="9.3" text-anchor="start" fill="#262626" font-weight="normal" >pCONc-U</text>
<line x1="45.2" y1="221.4" x2="76.7" y2="221.4" stroke="#5f9b88" stroke-width="1.5" />
<line x1="60.9" y1="216.8" x2="60.9" y2="226.0" stroke="#5f9b88" stroke-width="1.2"/>
<line x1="58.0" y1="216.8" x2="63.8" y2="216.8" stroke="#5f9b88" stroke-width="1.2"/>
<line x1="58.0" y1="226.0" x2="63.8" y2="226.0" stroke="#5f9b88" stroke-width="1.2"/>
<rect x="58.699999999999996" y="219.20000000000002" width="4.4" height="4.4" fill="none" stroke="#5f9b88" stroke-width="1.2"/>
<text x="80.20" y="224.90" font-size="9.3" text-anchor="start" fill="#262626" font-weight="normal" >pCONn-S</text>
<line x1="45.2" y1="233.35" x2="76.7" y2="233.35" stroke="#5f9b88" stroke-width="1.5" stroke-dasharray="1.3 3.3"/>
<line x1="60.9" y1="228.75" x2="60.9" y2="237.95" stroke="#5f9b88" stroke-width="1.2"/>
<line x1="58.0" y1="228.75" x2="63.8" y2="228.75" stroke="#5f9b88" stroke-width="1.2"/>
<line x1="58.0" y1="237.95" x2="63.8" y2="237.95" stroke="#5f9b88" stroke-width="1.2"/>
<rect x="58.699999999999996" y="231.15" width="4.4" height="4.4" fill="none" stroke="#5f9b88" stroke-width="1.2"/>
<text x="80.20" y="236.85" font-size="9.3" text-anchor="start" fill="#262626" font-weight="normal" >pCONc-S</text>
<circle cx="138" cy="202.8" r="9.9" fill="none" stroke="#d9d476" stroke-width="1.2"/>
<circle cx="138" cy="226.4" r="10" fill="none" stroke="#5f9b88" stroke-width="2.7"/>
<clipPath id="clipc245"><rect x="277.6" y="103.8" width="141.29999999999995" height="156.5"/></clipPath>
<line x1="277.6" y1="260.30" x2="418.9" y2="260.30" stroke="#e3e3e3" stroke-width="0.6"/>
<line x1="277.6" y1="244.97" x2="418.9" y2="244.97" stroke="#e3e3e3" stroke-width="0.6"/>
<line x1="277.6" y1="229.64" x2="418.9" y2="229.64" stroke="#e3e3e3" stroke-width="0.6"/>
<line x1="277.6" y1="214.31" x2="418.9" y2="214.31" stroke="#e3e3e3" stroke-width="0.6"/>
<line x1="277.6" y1="198.98" x2="418.9" y2="198.98" stroke="#e3e3e3" stroke-width="0.6"/>
<line x1="277.6" y1="183.65" x2="418.9" y2="183.65" stroke="#e3e3e3" stroke-width="0.6"/>
<line x1="277.6" y1="168.32" x2="418.9" y2="168.32" stroke="#e3e3e3" stroke-width="0.6"/>
<line x1="277.6" y1="152.99" x2="418.9" y2="152.99" stroke="#e3e3e3" stroke-width="0.6"/>
<line x1="277.6" y1="137.66" x2="418.9" y2="137.66" stroke="#e3e3e3" stroke-width="0.6"/>
<line x1="277.6" y1="122.33" x2="418.9" y2="122.33" stroke="#e3e3e3" stroke-width="0.6"/>
<line x1="277.6" y1="107.00" x2="418.9" y2="107.00" stroke="#e3e3e3" stroke-width="0.6"/>
<line x1="282.60" y1="103.8" x2="282.60" y2="260.3" stroke="#e3e3e3" stroke-width="0.6"/>
<line x1="308.78" y1="103.8" x2="308.78" y2="260.3" stroke="#e3e3e3" stroke-width="0.6"/>
<line x1="334.96" y1="103.8" x2="334.96" y2="260.3" stroke="#e3e3e3" stroke-width="0.6"/>
<line x1="361.14" y1="103.8" x2="361.14" y2="260.3" stroke="#e3e3e3" stroke-width="0.6"/>
<line x1="387.32" y1="103.8" x2="387.32" y2="260.3" stroke="#e3e3e3" stroke-width="0.6"/>
<line x1="413.50" y1="103.8" x2="413.50" y2="260.3" stroke="#e3e3e3" stroke-width="0.6"/>
<g clip-path="url(#clipc245)">
<polyline points="282.30,107.00 308.48,110.07 334.66,129.08 360.84,111.60 387.02,116.20 413.20,107.00" fill="none" stroke="#0072bd" stroke-width="1.5" stroke-dasharray="1.3 3.3" stroke-linejoin="round"/>
<line x1="282.30" y1="111.60" x2="282.30" y2="103.93" stroke="#0072bd" stroke-width="1.2"/>
<line x1="279.40" y1="111.60" x2="285.20" y2="111.60" stroke="#0072bd" stroke-width="1.2"/>
<line x1="279.40" y1="103.93" x2="285.20" y2="103.93" stroke="#0072bd" stroke-width="1.2"/>
<rect x="280.10" y="104.80" width="4.4" height="4.4" fill="none" stroke="#0072bd" stroke-width="1.2"/>
<line x1="308.48" y1="114.67" x2="308.48" y2="107.00" stroke="#0072bd" stroke-width="1.2"/>
<line x1="305.58" y1="114.67" x2="311.38" y2="114.67" stroke="#0072bd" stroke-width="1.2"/>
<line x1="305.58" y1="107.00" x2="311.38" y2="107.00" stroke="#0072bd" stroke-width="1.2"/>
<rect x="306.28" y="107.87" width="4.4" height="4.4" fill="none" stroke="#0072bd" stroke-width="1.2"/>
<line x1="334.66" y1="137.97" x2="334.66" y2="119.88" stroke="#0072bd" stroke-width="1.2"/>
<line x1="331.76" y1="137.97" x2="337.56" y2="137.97" stroke="#0072bd" stroke-width="1.2"/>
<line x1="331.76" y1="119.88" x2="337.56" y2="119.88" stroke="#0072bd" stroke-width="1.2"/>
<rect x="332.46" y="126.88" width="4.4" height="4.4" fill="none" stroke="#0072bd" stroke-width="1.2"/>
<line x1="360.84" y1="116.20" x2="360.84" y2="107.00" stroke="#0072bd" stroke-width="1.2"/>
<line x1="357.94" y1="116.20" x2="363.74" y2="116.20" stroke="#0072bd" stroke-width="1.2"/>
<line x1="357.94" y1="107.00" x2="363.74" y2="107.00" stroke="#0072bd" stroke-width="1.2"/>
<rect x="358.64" y="109.40" width="4.4" height="4.4" fill="none" stroke="#0072bd" stroke-width="1.2"/>
<line x1="387.02" y1="122.33" x2="387.02" y2="110.07" stroke="#0072bd" stroke-width="1.2"/>
<line x1="384.12" y1="122.33" x2="389.92" y2="122.33" stroke="#0072bd" stroke-width="1.2"/>
<line x1="384.12" y1="110.07" x2="389.92" y2="110.07" stroke="#0072bd" stroke-width="1.2"/>
<rect x="384.82" y="114.00" width="4.4" height="4.4" fill="none" stroke="#0072bd" stroke-width="1.2"/>
<line x1="413.20" y1="111.60" x2="413.20" y2="103.93" stroke="#0072bd" stroke-width="1.2"/>
<line x1="410.30" y1="111.60" x2="416.10" y2="111.60" stroke="#0072bd" stroke-width="1.2"/>
<line x1="410.30" y1="103.93" x2="416.10" y2="103.93" stroke="#0072bd" stroke-width="1.2"/>
<rect x="411.00" y="104.80" width="4.4" height="4.4" fill="none" stroke="#0072bd" stroke-width="1.2"/>
</g>
<g clip-path="url(#clipc245)">
<polyline points="280.00,107.00 306.18,115.43 332.36,107.00 358.54,115.89 384.72,124.17 410.90,121.41" fill="none" stroke="#0072bd" stroke-width="1.5"  stroke-linejoin="round"/>
<line x1="280.00" y1="115.43" x2="280.00" y2="103.93" stroke="#0072bd" stroke-width="1.2"/>
<line x1="277.10" y1="115.43" x2="282.90" y2="115.43" stroke="#0072bd" stroke-width="1.2"/>
<line x1="277.10" y1="103.93" x2="282.90" y2="103.93" stroke="#0072bd" stroke-width="1.2"/>
<rect x="277.80" y="104.80" width="4.4" height="4.4" fill="none" stroke="#0072bd" stroke-width="1.2"/>
<line x1="306.18" y1="122.33" x2="306.18" y2="111.60" stroke="#0072bd" stroke-width="1.2"/>
<line x1="303.28" y1="122.33" x2="309.08" y2="122.33" stroke="#0072bd" stroke-width="1.2"/>
<line x1="303.28" y1="111.60" x2="309.08" y2="111.60" stroke="#0072bd" stroke-width="1.2"/>
<rect x="303.98" y="113.23" width="4.4" height="4.4" fill="none" stroke="#0072bd" stroke-width="1.2"/>
<line x1="332.36" y1="111.60" x2="332.36" y2="103.93" stroke="#0072bd" stroke-width="1.2"/>
<line x1="329.46" y1="111.60" x2="335.26" y2="111.60" stroke="#0072bd" stroke-width="1.2"/>
<line x1="329.46" y1="103.93" x2="335.26" y2="103.93" stroke="#0072bd" stroke-width="1.2"/>
<rect x="330.16" y="104.80" width="4.4" height="4.4" fill="none" stroke="#0072bd" stroke-width="1.2"/>
<line x1="358.54" y1="122.33" x2="358.54" y2="112.06" stroke="#0072bd" stroke-width="1.2"/>
<line x1="355.64" y1="122.33" x2="361.44" y2="122.33" stroke="#0072bd" stroke-width="1.2"/>
<line x1="355.64" y1="112.06" x2="361.44" y2="112.06" stroke="#0072bd" stroke-width="1.2"/>
<rect x="356.34" y="113.69" width="4.4" height="4.4" fill="none" stroke="#0072bd" stroke-width="1.2"/>
<line x1="384.72" y1="133.52" x2="384.72" y2="117.58" stroke="#0072bd" stroke-width="1.2"/>
<line x1="381.82" y1="133.52" x2="387.62" y2="133.52" stroke="#0072bd" stroke-width="1.2"/>
<line x1="381.82" y1="117.58" x2="387.62" y2="117.58" stroke="#0072bd" stroke-width="1.2"/>
<rect x="382.52" y="121.97" width="4.4" height="4.4" fill="none" stroke="#0072bd" stroke-width="1.2"/>
<line x1="410.90" y1="130.91" x2="410.90" y2="111.60" stroke="#0072bd" stroke-width="1.2"/>
<line x1="408.00" y1="130.91" x2="413.80" y2="130.91" stroke="#0072bd" stroke-width="1.2"/>
<line x1="408.00" y1="111.60" x2="413.80" y2="111.60" stroke="#0072bd" stroke-width="1.2"/>
<rect x="408.70" y="119.21" width="4.4" height="4.4" fill="none" stroke="#0072bd" stroke-width="1.2"/>
</g>
<g clip-path="url(#clipc245)">
<polyline points="285.00,107.00 311.18,109.30 337.36,107.00 363.54,107.00 389.72,113.13 415.90,110.83" fill="none" stroke="#e05814" stroke-width="1.5" stroke-dasharray="1.3 3.3" stroke-linejoin="round"/>
<line x1="285.00" y1="110.07" x2="285.00" y2="103.93" stroke="#e05814" stroke-width="1.2"/>
<line x1="282.10" y1="110.07" x2="287.90" y2="110.07" stroke="#e05814" stroke-width="1.2"/>
<line x1="282.10" y1="103.93" x2="287.90" y2="103.93" stroke="#e05814" stroke-width="1.2"/>
<rect x="282.80" y="104.80" width="4.4" height="4.4" fill="none" stroke="#e05814" stroke-width="1.2"/>
<line x1="311.18" y1="114.67" x2="311.18" y2="105.47" stroke="#e05814" stroke-width="1.2"/>
<line x1="308.28" y1="114.67" x2="314.08" y2="114.67" stroke="#e05814" stroke-width="1.2"/>
<line x1="308.28" y1="105.47" x2="314.08" y2="105.47" stroke="#e05814" stroke-width="1.2"/>
<rect x="308.98" y="107.10" width="4.4" height="4.4" fill="none" stroke="#e05814" stroke-width="1.2"/>
<line x1="337.36" y1="110.07" x2="337.36" y2="103.93" stroke="#e05814" stroke-width="1.2"/>
<line x1="334.46" y1="110.07" x2="340.26" y2="110.07" stroke="#e05814" stroke-width="1.2"/>
<line x1="334.46" y1="103.93" x2="340.26" y2="103.93" stroke="#e05814" stroke-width="1.2"/>
<rect x="335.16" y="104.80" width="4.4" height="4.4" fill="none" stroke="#e05814" stroke-width="1.2"/>
<line x1="363.54" y1="110.07" x2="363.54" y2="103.93" stroke="#e05814" stroke-width="1.2"/>
<line x1="360.64" y1="110.07" x2="366.44" y2="110.07" stroke="#e05814" stroke-width="1.2"/>
<line x1="360.64" y1="103.93" x2="366.44" y2="103.93" stroke="#e05814" stroke-width="1.2"/>
<rect x="361.34" y="104.80" width="4.4" height="4.4" fill="none" stroke="#e05814" stroke-width="1.2"/>
<line x1="389.72" y1="120.03" x2="389.72" y2="107.00" stroke="#e05814" stroke-width="1.2"/>
<line x1="386.82" y1="120.03" x2="392.62" y2="120.03" stroke="#e05814" stroke-width="1.2"/>
<line x1="386.82" y1="107.00" x2="392.62" y2="107.00" stroke="#e05814" stroke-width="1.2"/>
<rect x="387.52" y="110.93" width="4.4" height="4.4" fill="none" stroke="#e05814" stroke-width="1.2"/>
<line x1="415.90" y1="114.67" x2="415.90" y2="107.00" stroke="#e05814" stroke-width="1.2"/>
<line x1="413.00" y1="114.67" x2="418.80" y2="114.67" stroke="#e05814" stroke-width="1.2"/>
<line x1="413.00" y1="107.00" x2="418.80" y2="107.00" stroke="#e05814" stroke-width="1.2"/>
<rect x="413.70" y="108.63" width="4.4" height="4.4" fill="none" stroke="#e05814" stroke-width="1.2"/>
</g>
<g clip-path="url(#clipc245)">
<polyline points="284.10,107.00 310.28,113.13 336.46,115.43 362.64,107.00 388.82,107.31 415.00,109.45" fill="none" stroke="#e05814" stroke-width="1.5"  stroke-linejoin="round"/>
<line x1="284.10" y1="108.53" x2="284.10" y2="103.93" stroke="#e05814" stroke-width="1.2"/>
<line x1="281.20" y1="108.53" x2="287.00" y2="108.53" stroke="#e05814" stroke-width="1.2"/>
<line x1="281.20" y1="103.93" x2="287.00" y2="103.93" stroke="#e05814" stroke-width="1.2"/>
<rect x="281.90" y="104.80" width="4.4" height="4.4" fill="none" stroke="#e05814" stroke-width="1.2"/>
<line x1="310.28" y1="119.26" x2="310.28" y2="104.39" stroke="#e05814" stroke-width="1.2"/>
<line x1="307.38" y1="119.26" x2="313.18" y2="119.26" stroke="#e05814" stroke-width="1.2"/>
<line x1="307.38" y1="104.39" x2="313.18" y2="104.39" stroke="#e05814" stroke-width="1.2"/>
<rect x="308.08" y="110.93" width="4.4" height="4.4" fill="none" stroke="#e05814" stroke-width="1.2"/>
<line x1="336.46" y1="119.72" x2="336.46" y2="110.83" stroke="#e05814" stroke-width="1.2"/>
<line x1="333.56" y1="119.72" x2="339.36" y2="119.72" stroke="#e05814" stroke-width="1.2"/>
<line x1="333.56" y1="110.83" x2="339.36" y2="110.83" stroke="#e05814" stroke-width="1.2"/>
<rect x="334.26" y="113.23" width="4.4" height="4.4" fill="none" stroke="#e05814" stroke-width="1.2"/>
<line x1="362.64" y1="110.07" x2="362.64" y2="103.93" stroke="#e05814" stroke-width="1.2"/>
<line x1="359.74" y1="110.07" x2="365.54" y2="110.07" stroke="#e05814" stroke-width="1.2"/>
<line x1="359.74" y1="103.93" x2="365.54" y2="103.93" stroke="#e05814" stroke-width="1.2"/>
<rect x="360.44" y="104.80" width="4.4" height="4.4" fill="none" stroke="#e05814" stroke-width="1.2"/>
<line x1="388.82" y1="110.07" x2="388.82" y2="103.93" stroke="#e05814" stroke-width="1.2"/>
<line x1="385.92" y1="110.07" x2="391.72" y2="110.07" stroke="#e05814" stroke-width="1.2"/>
<line x1="385.92" y1="103.93" x2="391.72" y2="103.93" stroke="#e05814" stroke-width="1.2"/>
<rect x="386.62" y="105.11" width="4.4" height="4.4" fill="none" stroke="#e05814" stroke-width="1.2"/>
<line x1="415.00" y1="113.13" x2="415.00" y2="105.47" stroke="#e05814" stroke-width="1.2"/>
<line x1="412.10" y1="113.13" x2="417.90" y2="113.13" stroke="#e05814" stroke-width="1.2"/>
<line x1="412.10" y1="105.47" x2="417.90" y2="105.47" stroke="#e05814" stroke-width="1.2"/>
<rect x="412.80" y="107.25" width="4.4" height="4.4" fill="none" stroke="#e05814" stroke-width="1.2"/>
</g>
<rect x="277.6" y="103.8" width="141.29999999999995" height="156.5" fill="none" stroke="#3a3a3a" stroke-width="0.9"/>
<line x1="277.6" y1="260.30" x2="279.20000000000005" y2="260.30" stroke="#3a3a3a" stroke-width="0.9"/>
<line x1="417.29999999999995" y1="260.30" x2="418.9" y2="260.30" stroke="#3a3a3a" stroke-width="0.9"/>
<text x="273.30" y="263.30" font-size="8.8" text-anchor="end" fill="#262626" font-weight="normal" >0</text>
<line x1="277.6" y1="244.97" x2="279.20000000000005" y2="244.97" stroke="#3a3a3a" stroke-width="0.9"/>
<line x1="417.29999999999995" y1="244.97" x2="418.9" y2="244.97" stroke="#3a3a3a" stroke-width="0.9"/>
<text x="273.30" y="247.97" font-size="8.8" text-anchor="end" fill="#262626" font-weight="normal" >0.1</text>
<line x1="277.6" y1="229.64" x2="279.20000000000005" y2="229.64" stroke="#3a3a3a" stroke-width="0.9"/>
<line x1="417.29999999999995" y1="229.64" x2="418.9" y2="229.64" stroke="#3a3a3a" stroke-width="0.9"/>
<text x="273.30" y="232.64" font-size="8.8" text-anchor="end" fill="#262626" font-weight="normal" >0.2</text>
<line x1="277.6" y1="214.31" x2="279.20000000000005" y2="214.31" stroke="#3a3a3a" stroke-width="0.9"/>
<line x1="417.29999999999995" y1="214.31" x2="418.9" y2="214.31" stroke="#3a3a3a" stroke-width="0.9"/>
<text x="273.30" y="217.31" font-size="8.8" text-anchor="end" fill="#262626" font-weight="normal" >0.3</text>
<line x1="277.6" y1="198.98" x2="279.20000000000005" y2="198.98" stroke="#3a3a3a" stroke-width="0.9"/>
<line x1="417.29999999999995" y1="198.98" x2="418.9" y2="198.98" stroke="#3a3a3a" stroke-width="0.9"/>
<text x="273.30" y="201.98" font-size="8.8" text-anchor="end" fill="#262626" font-weight="normal" >0.4</text>
<line x1="277.6" y1="183.65" x2="279.20000000000005" y2="183.65" stroke="#3a3a3a" stroke-width="0.9"/>
<line x1="417.29999999999995" y1="183.65" x2="418.9" y2="183.65" stroke="#3a3a3a" stroke-width="0.9"/>
<text x="273.30" y="186.65" font-size="8.8" text-anchor="end" fill="#262626" font-weight="normal" >0.5</text>
<line x1="277.6" y1="168.32" x2="279.20000000000005" y2="168.32" stroke="#3a3a3a" stroke-width="0.9"/>
<line x1="417.29999999999995" y1="168.32" x2="418.9" y2="168.32" stroke="#3a3a3a" stroke-width="0.9"/>
<text x="273.30" y="171.32" font-size="8.8" text-anchor="end" fill="#262626" font-weight="normal" >0.6</text>
<line x1="277.6" y1="152.99" x2="279.20000000000005" y2="152.99" stroke="#3a3a3a" stroke-width="0.9"/>
<line x1="417.29999999999995" y1="152.99" x2="418.9" y2="152.99" stroke="#3a3a3a" stroke-width="0.9"/>
<text x="273.30" y="155.99" font-size="8.8" text-anchor="end" fill="#262626" font-weight="normal" >0.7</text>
<line x1="277.6" y1="137.66" x2="279.20000000000005" y2="137.66" stroke="#3a3a3a" stroke-width="0.9"/>
<line x1="417.29999999999995" y1="137.66" x2="418.9" y2="137.66" stroke="#3a3a3a" stroke-width="0.9"/>
<text x="273.30" y="140.66" font-size="8.8" text-anchor="end" fill="#262626" font-weight="normal" >0.8</text>
<line x1="277.6" y1="122.33" x2="279.20000000000005" y2="122.33" stroke="#3a3a3a" stroke-width="0.9"/>
<line x1="417.29999999999995" y1="122.33" x2="418.9" y2="122.33" stroke="#3a3a3a" stroke-width="0.9"/>
<text x="273.30" y="125.33" font-size="8.8" text-anchor="end" fill="#262626" font-weight="normal" >0.9</text>
<line x1="277.6" y1="107.00" x2="279.20000000000005" y2="107.00" stroke="#3a3a3a" stroke-width="0.9"/>
<line x1="417.29999999999995" y1="107.00" x2="418.9" y2="107.00" stroke="#3a3a3a" stroke-width="0.9"/>
<text x="273.30" y="110.00" font-size="8.8" text-anchor="end" fill="#262626" font-weight="normal" >1</text>
<line x1="282.60" y1="260.3" x2="282.60" y2="258.7" stroke="#3a3a3a" stroke-width="0.9"/>
<line x1="282.60" y1="103.8" x2="282.60" y2="105.39999999999999" stroke="#3a3a3a" stroke-width="0.9"/>
<text x="282.60" y="273.20" font-size="8.8" text-anchor="middle" fill="#262626" font-weight="normal" >0</text>
<line x1="308.78" y1="260.3" x2="308.78" y2="258.7" stroke="#3a3a3a" stroke-width="0.9"/>
<line x1="308.78" y1="103.8" x2="308.78" y2="105.39999999999999" stroke="#3a3a3a" stroke-width="0.9"/>
<text x="308.78" y="273.20" font-size="8.8" text-anchor="middle" fill="#262626" font-weight="normal" >1</text>
<line x1="334.96" y1="260.3" x2="334.96" y2="258.7" stroke="#3a3a3a" stroke-width="0.9"/>
<line x1="334.96" y1="103.8" x2="334.96" y2="105.39999999999999" stroke="#3a3a3a" stroke-width="0.9"/>
<text x="334.96" y="273.20" font-size="8.8" text-anchor="middle" fill="#262626" font-weight="normal" >2</text>
<line x1="361.14" y1="260.3" x2="361.14" y2="258.7" stroke="#3a3a3a" stroke-width="0.9"/>
<line x1="361.14" y1="103.8" x2="361.14" y2="105.39999999999999" stroke="#3a3a3a" stroke-width="0.9"/>
<text x="361.14" y="273.20" font-size="8.8" text-anchor="middle" fill="#262626" font-weight="normal" >3</text>
<line x1="387.32" y1="260.3" x2="387.32" y2="258.7" stroke="#3a3a3a" stroke-width="0.9"/>
<line x1="387.32" y1="103.8" x2="387.32" y2="105.39999999999999" stroke="#3a3a3a" stroke-width="0.9"/>
<text x="387.32" y="273.20" font-size="8.8" text-anchor="middle" fill="#262626" font-weight="normal" >4</text>
<line x1="413.50" y1="260.3" x2="413.50" y2="258.7" stroke="#3a3a3a" stroke-width="0.9"/>
<line x1="413.50" y1="103.8" x2="413.50" y2="105.39999999999999" stroke="#3a3a3a" stroke-width="0.9"/>
<text x="413.50" y="273.20" font-size="8.8" text-anchor="middle" fill="#262626" font-weight="normal" >5</text>
<text x="347.85" y="284.80" font-size="9.5" text-anchor="middle" fill="#262626" font-weight="normal" >Days</text>
<text x="0" y="0" font-size="9.5" text-anchor="middle" fill="#262626" transform="translate(256.8 182.5) rotate(-90)">% Hosts</text>
<rect x="284.2" y="187.2" width="122.6" height="52" fill="#fff" stroke="#3a3a3a" stroke-width="0.9"/>
<line x1="288.5" y1="196.1" x2="320.2" y2="196.1" stroke="#0072bd" stroke-width="1.5" />
<line x1="304.3" y1="191.5" x2="304.3" y2="200.7" stroke="#0072bd" stroke-width="1.2"/>
<line x1="301.40000000000003" y1="191.5" x2="307.2" y2="191.5" stroke="#0072bd" stroke-width="1.2"/>
<line x1="301.40000000000003" y1="200.7" x2="307.2" y2="200.7" stroke="#0072bd" stroke-width="1.2"/>
<rect x="302.1" y="193.9" width="4.4" height="4.4" fill="none" stroke="#0072bd" stroke-width="1.2"/>
<text x="324.00" y="199.70" font-size="9.3" text-anchor="start" fill="#262626" font-weight="normal" >pCONn-P</text>
<line x1="288.5" y1="207.95" x2="320.2" y2="207.95" stroke="#0072bd" stroke-width="1.5" stroke-dasharray="1.3 3.3"/>
<line x1="304.3" y1="203.35" x2="304.3" y2="212.54999999999998" stroke="#0072bd" stroke-width="1.2"/>
<line x1="301.40000000000003" y1="203.35" x2="307.2" y2="203.35" stroke="#0072bd" stroke-width="1.2"/>
<line x1="301.40000000000003" y1="212.54999999999998" x2="307.2" y2="212.54999999999998" stroke="#0072bd" stroke-width="1.2"/>
<rect x="302.1" y="205.75" width="4.4" height="4.4" fill="none" stroke="#0072bd" stroke-width="1.2"/>
<text x="324.00" y="211.55" font-size="9.3" text-anchor="start" fill="#262626" font-weight="normal" >pCONc-P</text>
<line x1="288.5" y1="219.79999999999998" x2="320.2" y2="219.79999999999998" stroke="#e05814" stroke-width="1.5" />
<line x1="304.3" y1="215.2" x2="304.3" y2="224.39999999999998" stroke="#e05814" stroke-width="1.2"/>
<line x1="301.40000000000003" y1="215.2" x2="307.2" y2="215.2" stroke="#e05814" stroke-width="1.2"/>
<line x1="301.40000000000003" y1="224.39999999999998" x2="307.2" y2="224.39999999999998" stroke="#e05814" stroke-width="1.2"/>
<rect x="302.1" y="217.6" width="4.4" height="4.4" fill="none" stroke="#e05814" stroke-width="1.2"/>
<text x="324.00" y="223.40" font-size="9.3" text-anchor="start" fill="#262626" font-weight="normal" >pCONn-T</text>
<line x1="288.5" y1="231.64999999999998" x2="320.2" y2="231.64999999999998" stroke="#e05814" stroke-width="1.5" stroke-dasharray="1.3 3.3"/>
<line x1="304.3" y1="227.04999999999998" x2="304.3" y2="236.24999999999997" stroke="#e05814" stroke-width="1.2"/>
<line x1="301.40000000000003" y1="227.04999999999998" x2="307.2" y2="227.04999999999998" stroke="#e05814" stroke-width="1.2"/>
<line x1="301.40000000000003" y1="236.24999999999997" x2="307.2" y2="236.24999999999997" stroke="#e05814" stroke-width="1.2"/>
<rect x="302.1" y="229.45" width="4.4" height="4.4" fill="none" stroke="#e05814" stroke-width="1.2"/>
<text x="324.00" y="235.25" font-size="9.3" text-anchor="start" fill="#262626" font-weight="normal" >pCONc-T</text>
<circle cx="385" cy="202.4" r="8.8" fill="none" stroke="#0072bd" stroke-width="1.2"/>
<line x1="370" y1="202.4" x2="400" y2="202.4" stroke="#0072bd" stroke-width="1"/>
<path d="M365.8 202.4 L373.3 198.3 L373.3 206.5 Z M404 202.4 L396.5 198.3 L396.5 206.5 Z" fill="#0072bd"/>
<circle cx="385" cy="225.1" r="9.3" fill="none" stroke="#e05814" stroke-width="1.3"/>
<path d="M378.4 218.5 L391.6 231.7 M391.6 218.5 L378.4 231.7" stroke="#e05814" stroke-width="1.1"/>
<clipPath id="clipc490"><rect x="522.6" y="103.8" width="141.29999999999995" height="156.5"/></clipPath>
<line x1="522.6" y1="260.30" x2="663.9" y2="260.30" stroke="#e3e3e3" stroke-width="0.6"/>
<line x1="522.6" y1="244.97" x2="663.9" y2="244.97" stroke="#e3e3e3" stroke-width="0.6"/>
<line x1="522.6" y1="229.64" x2="663.9" y2="229.64" stroke="#e3e3e3" stroke-width="0.6"/>
<line x1="522.6" y1="214.31" x2="663.9" y2="214.31" stroke="#e3e3e3" stroke-width="0.6"/>
<line x1="522.6" y1="198.98" x2="663.9" y2="198.98" stroke="#e3e3e3" stroke-width="0.6"/>
<line x1="522.6" y1="183.65" x2="663.9" y2="183.65" stroke="#e3e3e3" stroke-width="0.6"/>
<line x1="522.6" y1="168.32" x2="663.9" y2="168.32" stroke="#e3e3e3" stroke-width="0.6"/>
<line x1="522.6" y1="152.99" x2="663.9" y2="152.99" stroke="#e3e3e3" stroke-width="0.6"/>
<line x1="522.6" y1="137.66" x2="663.9" y2="137.66" stroke="#e3e3e3" stroke-width="0.6"/>
<line x1="522.6" y1="122.33" x2="663.9" y2="122.33" stroke="#e3e3e3" stroke-width="0.6"/>
<line x1="522.6" y1="107.00" x2="663.9" y2="107.00" stroke="#e3e3e3" stroke-width="0.6"/>
<line x1="527.60" y1="103.8" x2="527.60" y2="260.3" stroke="#e3e3e3" stroke-width="0.6"/>
<line x1="553.78" y1="103.8" x2="553.78" y2="260.3" stroke="#e3e3e3" stroke-width="0.6"/>
<line x1="579.96" y1="103.8" x2="579.96" y2="260.3" stroke="#e3e3e3" stroke-width="0.6"/>
<line x1="606.14" y1="103.8" x2="606.14" y2="260.3" stroke="#e3e3e3" stroke-width="0.6"/>
<line x1="632.32" y1="103.8" x2="632.32" y2="260.3" stroke="#e3e3e3" stroke-width="0.6"/>
<line x1="658.50" y1="103.8" x2="658.50" y2="260.3" stroke="#e3e3e3" stroke-width="0.6"/>
<g clip-path="url(#clipc490)">
<polyline points="526.60,107.00 552.78,107.00 578.96,107.00 605.14,107.00 631.32,107.00 657.50,107.00" fill="none" stroke="#5e3897" stroke-width="1.5" stroke-dasharray="1.3 3.3" stroke-linejoin="round"/>
<line x1="526.60" y1="109.30" x2="526.60" y2="103.93" stroke="#5e3897" stroke-width="1.2"/>
<line x1="523.70" y1="109.30" x2="529.50" y2="109.30" stroke="#5e3897" stroke-width="1.2"/>
<line x1="523.70" y1="103.93" x2="529.50" y2="103.93" stroke="#5e3897" stroke-width="1.2"/>
<rect x="524.40" y="104.80" width="4.4" height="4.4" fill="none" stroke="#5e3897" stroke-width="1.2"/>
<line x1="552.78" y1="109.30" x2="552.78" y2="103.93" stroke="#5e3897" stroke-width="1.2"/>
<line x1="549.88" y1="109.30" x2="555.68" y2="109.30" stroke="#5e3897" stroke-width="1.2"/>
<line x1="549.88" y1="103.93" x2="555.68" y2="103.93" stroke="#5e3897" stroke-width="1.2"/>
<rect x="550.58" y="104.80" width="4.4" height="4.4" fill="none" stroke="#5e3897" stroke-width="1.2"/>
<line x1="578.96" y1="109.30" x2="578.96" y2="103.93" stroke="#5e3897" stroke-width="1.2"/>
<line x1="576.06" y1="109.30" x2="581.86" y2="109.30" stroke="#5e3897" stroke-width="1.2"/>
<line x1="576.06" y1="103.93" x2="581.86" y2="103.93" stroke="#5e3897" stroke-width="1.2"/>
<rect x="576.76" y="104.80" width="4.4" height="4.4" fill="none" stroke="#5e3897" stroke-width="1.2"/>
<line x1="605.14" y1="109.30" x2="605.14" y2="103.93" stroke="#5e3897" stroke-width="1.2"/>
<line x1="602.24" y1="109.30" x2="608.04" y2="109.30" stroke="#5e3897" stroke-width="1.2"/>
<line x1="602.24" y1="103.93" x2="608.04" y2="103.93" stroke="#5e3897" stroke-width="1.2"/>
<rect x="602.94" y="104.80" width="4.4" height="4.4" fill="none" stroke="#5e3897" stroke-width="1.2"/>
<line x1="631.32" y1="109.30" x2="631.32" y2="103.93" stroke="#5e3897" stroke-width="1.2"/>
<line x1="628.42" y1="109.30" x2="634.22" y2="109.30" stroke="#5e3897" stroke-width="1.2"/>
<line x1="628.42" y1="103.93" x2="634.22" y2="103.93" stroke="#5e3897" stroke-width="1.2"/>
<rect x="629.12" y="104.80" width="4.4" height="4.4" fill="none" stroke="#5e3897" stroke-width="1.2"/>
<line x1="657.50" y1="109.30" x2="657.50" y2="103.93" stroke="#5e3897" stroke-width="1.2"/>
<line x1="654.60" y1="109.30" x2="660.40" y2="109.30" stroke="#5e3897" stroke-width="1.2"/>
<line x1="654.60" y1="103.93" x2="660.40" y2="103.93" stroke="#5e3897" stroke-width="1.2"/>
<rect x="655.30" y="104.80" width="4.4" height="4.4" fill="none" stroke="#5e3897" stroke-width="1.2"/>
</g>
<g clip-path="url(#clipc490)">
<polyline points="525.60,107.00 551.78,107.00 577.96,107.00 604.14,116.20 630.32,107.00 656.50,107.77" fill="none" stroke="#5e3897" stroke-width="1.5"  stroke-linejoin="round"/>
<line x1="525.60" y1="112.06" x2="525.60" y2="103.93" stroke="#5e3897" stroke-width="1.2"/>
<line x1="522.70" y1="112.06" x2="528.50" y2="112.06" stroke="#5e3897" stroke-width="1.2"/>
<line x1="522.70" y1="103.93" x2="528.50" y2="103.93" stroke="#5e3897" stroke-width="1.2"/>
<rect x="523.40" y="104.80" width="4.4" height="4.4" fill="none" stroke="#5e3897" stroke-width="1.2"/>
<line x1="551.78" y1="109.30" x2="551.78" y2="103.93" stroke="#5e3897" stroke-width="1.2"/>
<line x1="548.88" y1="109.30" x2="554.68" y2="109.30" stroke="#5e3897" stroke-width="1.2"/>
<line x1="548.88" y1="103.93" x2="554.68" y2="103.93" stroke="#5e3897" stroke-width="1.2"/>
<rect x="549.58" y="104.80" width="4.4" height="4.4" fill="none" stroke="#5e3897" stroke-width="1.2"/>
<line x1="577.96" y1="113.13" x2="577.96" y2="103.93" stroke="#5e3897" stroke-width="1.2"/>
<line x1="575.06" y1="113.13" x2="580.86" y2="113.13" stroke="#5e3897" stroke-width="1.2"/>
<line x1="575.06" y1="103.93" x2="580.86" y2="103.93" stroke="#5e3897" stroke-width="1.2"/>
<rect x="575.76" y="104.80" width="4.4" height="4.4" fill="none" stroke="#5e3897" stroke-width="1.2"/>
<line x1="604.14" y1="121.87" x2="604.14" y2="112.06" stroke="#5e3897" stroke-width="1.2"/>
<line x1="601.24" y1="121.87" x2="607.04" y2="121.87" stroke="#5e3897" stroke-width="1.2"/>
<line x1="601.24" y1="112.06" x2="607.04" y2="112.06" stroke="#5e3897" stroke-width="1.2"/>
<rect x="601.94" y="114.00" width="4.4" height="4.4" fill="none" stroke="#5e3897" stroke-width="1.2"/>
<line x1="630.32" y1="115.28" x2="630.32" y2="103.93" stroke="#5e3897" stroke-width="1.2"/>
<line x1="627.42" y1="115.28" x2="633.22" y2="115.28" stroke="#5e3897" stroke-width="1.2"/>
<line x1="627.42" y1="103.93" x2="633.22" y2="103.93" stroke="#5e3897" stroke-width="1.2"/>
<rect x="628.12" y="104.80" width="4.4" height="4.4" fill="none" stroke="#5e3897" stroke-width="1.2"/>
<line x1="656.50" y1="110.83" x2="656.50" y2="104.70" stroke="#5e3897" stroke-width="1.2"/>
<line x1="653.60" y1="110.83" x2="659.40" y2="110.83" stroke="#5e3897" stroke-width="1.2"/>
<line x1="653.60" y1="104.70" x2="659.40" y2="104.70" stroke="#5e3897" stroke-width="1.2"/>
<rect x="654.30" y="105.57" width="4.4" height="4.4" fill="none" stroke="#5e3897" stroke-width="1.2"/>
</g>
<rect x="522.6" y="103.8" width="141.29999999999995" height="156.5" fill="none" stroke="#3a3a3a" stroke-width="0.9"/>
<line x1="522.6" y1="260.30" x2="524.2" y2="260.30" stroke="#3a3a3a" stroke-width="0.9"/>
<line x1="662.3" y1="260.30" x2="663.9" y2="260.30" stroke="#3a3a3a" stroke-width="0.9"/>
<text x="518.30" y="263.30" font-size="8.8" text-anchor="end" fill="#262626" font-weight="normal" >0</text>
<line x1="522.6" y1="244.97" x2="524.2" y2="244.97" stroke="#3a3a3a" stroke-width="0.9"/>
<line x1="662.3" y1="244.97" x2="663.9" y2="244.97" stroke="#3a3a3a" stroke-width="0.9"/>
<text x="518.30" y="247.97" font-size="8.8" text-anchor="end" fill="#262626" font-weight="normal" >0.1</text>
<line x1="522.6" y1="229.64" x2="524.2" y2="229.64" stroke="#3a3a3a" stroke-width="0.9"/>
<line x1="662.3" y1="229.64" x2="663.9" y2="229.64" stroke="#3a3a3a" stroke-width="0.9"/>
<text x="518.30" y="232.64" font-size="8.8" text-anchor="end" fill="#262626" font-weight="normal" >0.2</text>
<line x1="522.6" y1="214.31" x2="524.2" y2="214.31" stroke="#3a3a3a" stroke-width="0.9"/>
<line x1="662.3" y1="214.31" x2="663.9" y2="214.31" stroke="#3a3a3a" stroke-width="0.9"/>
<text x="518.30" y="217.31" font-size="8.8" text-anchor="end" fill="#262626" font-weight="normal" >0.3</text>
<line x1="522.6" y1="198.98" x2="524.2" y2="198.98" stroke="#3a3a3a" stroke-width="0.9"/>
<line x1="662.3" y1="198.98" x2="663.9" y2="198.98" stroke="#3a3a3a" stroke-width="0.9"/>
<text x="518.30" y="201.98" font-size="8.8" text-anchor="end" fill="#262626" font-weight="normal" >0.4</text>
<line x1="522.6" y1="183.65" x2="524.2" y2="183.65" stroke="#3a3a3a" stroke-width="0.9"/>
<line x1="662.3" y1="183.65" x2="663.9" y2="183.65" stroke="#3a3a3a" stroke-width="0.9"/>
<text x="518.30" y="186.65" font-size="8.8" text-anchor="end" fill="#262626" font-weight="normal" >0.5</text>
<line x1="522.6" y1="168.32" x2="524.2" y2="168.32" stroke="#3a3a3a" stroke-width="0.9"/>
<line x1="662.3" y1="168.32" x2="663.9" y2="168.32" stroke="#3a3a3a" stroke-width="0.9"/>
<text x="518.30" y="171.32" font-size="8.8" text-anchor="end" fill="#262626" font-weight="normal" >0.6</text>
<line x1="522.6" y1="152.99" x2="524.2" y2="152.99" stroke="#3a3a3a" stroke-width="0.9"/>
<line x1="662.3" y1="152.99" x2="663.9" y2="152.99" stroke="#3a3a3a" stroke-width="0.9"/>
<text x="518.30" y="155.99" font-size="8.8" text-anchor="end" fill="#262626" font-weight="normal" >0.7</text>
<line x1="522.6" y1="137.66" x2="524.2" y2="137.66" stroke="#3a3a3a" stroke-width="0.9"/>
<line x1="662.3" y1="137.66" x2="663.9" y2="137.66" stroke="#3a3a3a" stroke-width="0.9"/>
<text x="518.30" y="140.66" font-size="8.8" text-anchor="end" fill="#262626" font-weight="normal" >0.8</text>
<line x1="522.6" y1="122.33" x2="524.2" y2="122.33" stroke="#3a3a3a" stroke-width="0.9"/>
<line x1="662.3" y1="122.33" x2="663.9" y2="122.33" stroke="#3a3a3a" stroke-width="0.9"/>
<text x="518.30" y="125.33" font-size="8.8" text-anchor="end" fill="#262626" font-weight="normal" >0.9</text>
<line x1="522.6" y1="107.00" x2="524.2" y2="107.00" stroke="#3a3a3a" stroke-width="0.9"/>
<line x1="662.3" y1="107.00" x2="663.9" y2="107.00" stroke="#3a3a3a" stroke-width="0.9"/>
<text x="518.30" y="110.00" font-size="8.8" text-anchor="end" fill="#262626" font-weight="normal" >1</text>
<line x1="527.60" y1="260.3" x2="527.60" y2="258.7" stroke="#3a3a3a" stroke-width="0.9"/>
<line x1="527.60" y1="103.8" x2="527.60" y2="105.39999999999999" stroke="#3a3a3a" stroke-width="0.9"/>
<text x="527.60" y="273.20" font-size="8.8" text-anchor="middle" fill="#262626" font-weight="normal" >0</text>
<line x1="553.78" y1="260.3" x2="553.78" y2="258.7" stroke="#3a3a3a" stroke-width="0.9"/>
<line x1="553.78" y1="103.8" x2="553.78" y2="105.39999999999999" stroke="#3a3a3a" stroke-width="0.9"/>
<text x="553.78" y="273.20" font-size="8.8" text-anchor="middle" fill="#262626" font-weight="normal" >1</text>
<line x1="579.96" y1="260.3" x2="579.96" y2="258.7" stroke="#3a3a3a" stroke-width="0.9"/>
<line x1="579.96" y1="103.8" x2="579.96" y2="105.39999999999999" stroke="#3a3a3a" stroke-width="0.9"/>
<text x="579.96" y="273.20" font-size="8.8" text-anchor="middle" fill="#262626" font-weight="normal" >2</text>
<line x1="606.14" y1="260.3" x2="606.14" y2="258.7" stroke="#3a3a3a" stroke-width="0.9"/>
<line x1="606.14" y1="103.8" x2="606.14" y2="105.39999999999999" stroke="#3a3a3a" stroke-width="0.9"/>
<text x="606.14" y="273.20" font-size="8.8" text-anchor="middle" fill="#262626" font-weight="normal" >3</text>
<line x1="632.32" y1="260.3" x2="632.32" y2="258.7" stroke="#3a3a3a" stroke-width="0.9"/>
<line x1="632.32" y1="103.8" x2="632.32" y2="105.39999999999999" stroke="#3a3a3a" stroke-width="0.9"/>
<text x="632.32" y="273.20" font-size="8.8" text-anchor="middle" fill="#262626" font-weight="normal" >4</text>
<line x1="658.50" y1="260.3" x2="658.50" y2="258.7" stroke="#3a3a3a" stroke-width="0.9"/>
<line x1="658.50" y1="103.8" x2="658.50" y2="105.39999999999999" stroke="#3a3a3a" stroke-width="0.9"/>
<text x="658.50" y="273.20" font-size="8.8" text-anchor="middle" fill="#262626" font-weight="normal" >5</text>
<text x="592.85" y="284.80" font-size="9.5" text-anchor="middle" fill="#262626" font-weight="normal" >Days</text>
<text x="0" y="0" font-size="9.5" text-anchor="middle" fill="#262626" transform="translate(501.8 182.5) rotate(-90)">% Hosts</text>
<rect x="528.8" y="211.2" width="129.6" height="27.2" fill="#fff" stroke="#3a3a3a" stroke-width="0.9"/>
<line x1="533.1" y1="219.3" x2="564.9" y2="219.3" stroke="#5e3897" stroke-width="1.5" />
<line x1="548.5" y1="214.70000000000002" x2="548.5" y2="223.9" stroke="#5e3897" stroke-width="1.2"/>
<line x1="545.6" y1="214.70000000000002" x2="551.4" y2="214.70000000000002" stroke="#5e3897" stroke-width="1.2"/>
<line x1="545.6" y1="223.9" x2="551.4" y2="223.9" stroke="#5e3897" stroke-width="1.2"/>
<rect x="546.3" y="217.10000000000002" width="4.4" height="4.4" fill="none" stroke="#5e3897" stroke-width="1.2"/>
<text x="568.20" y="222.70" font-size="9.3" text-anchor="start" fill="#262626" font-weight="normal" >pCONn-PT</text>
<line x1="533.1" y1="231.3" x2="564.9" y2="231.3" stroke="#5e3897" stroke-width="1.5" stroke-dasharray="1.3 3.3"/>
<line x1="548.5" y1="226.70000000000002" x2="548.5" y2="235.9" stroke="#5e3897" stroke-width="1.2"/>
<line x1="545.6" y1="226.70000000000002" x2="551.4" y2="226.70000000000002" stroke="#5e3897" stroke-width="1.2"/>
<line x1="545.6" y1="235.9" x2="551.4" y2="235.9" stroke="#5e3897" stroke-width="1.2"/>
<rect x="546.3" y="229.10000000000002" width="4.4" height="4.4" fill="none" stroke="#5e3897" stroke-width="1.2"/>
<text x="568.20" y="234.70" font-size="9.3" text-anchor="start" fill="#262626" font-weight="normal" >pCONc-PT</text>
<circle cx="637.1" cy="224.4" r="8.7" fill="none" stroke="#5e3897" stroke-width="1.2"/>
<line x1="622" y1="224.4" x2="652" y2="224.4" stroke="#5e3897" stroke-width="1"/>
<path d="M618.6 224.4 L626.1 220.2 L626.1 228.6 Z M655.4 224.4 L647.9 220.2 L647.9 228.6 Z" fill="#5e3897"/>
<text x="6.80" y="299.40" font-size="10.5" text-anchor="start" fill="#111" font-weight="bold" >d</text>
<circle cx="40.1" cy="298.2" r="5.1" fill="none" stroke="#d9d476" stroke-width="1.2"/>
<text x="48.20" y="301.80" font-size="8.4" text-anchor="start" fill="#262626" font-weight="normal" >pCONn-U</text>
<circle cx="111" cy="298.5" r="5.2" fill="none" stroke="#5f9b88" stroke-width="1.4"/>
<text x="119.80" y="301.60" font-size="8.4" text-anchor="start" fill="#262626" font-weight="normal" >pCONc-S</text>
<rect x="38.4" y="306.9" width="5" height="5" fill="#3c3c3c"/>
<text x="47.00" y="311.70" font-size="8.4" text-anchor="start" fill="#262626" font-weight="normal" >Heteroplasmic</text>
<rect x="108.8" y="306.8" width="5" height="5" fill="#e0e0e0"/>
<text x="117.00" y="311.60" font-size="8.4" text-anchor="start" fill="#262626" font-weight="normal" >Plasmid-free</text>
<rect x="33.15" y="316.80" width="4.6" height="0.00" fill="#e6e6e6"/>
<rect x="33.15" y="316.80" width="4.6" height="153.10" fill="#5f9b88"/>
<rect x="38.77" y="316.80" width="4.6" height="0.00" fill="#e6e6e6"/>
<rect x="38.77" y="316.80" width="4.6" height="1.53" fill="#a4a4a4"/>
<rect x="38.77" y="318.33" width="4.6" height="151.57" fill="#5f9b88"/>
<rect x="44.39" y="316.80" width="4.6" height="18.83" fill="#e6e6e6"/>
<rect x="44.39" y="335.63" width="4.6" height="134.27" fill="#5f9b88"/>
<rect x="50.01" y="316.80" width="4.6" height="12.55" fill="#e6e6e6"/>
<rect x="50.01" y="329.35" width="4.6" height="140.55" fill="#5f9b88"/>
<rect x="55.63" y="316.80" width="4.6" height="6.43" fill="#e6e6e6"/>
<rect x="55.63" y="323.23" width="4.6" height="146.67" fill="#5f9b88"/>
<rect x="61.25" y="316.80" width="4.6" height="0.00" fill="#e6e6e6"/>
<rect x="61.25" y="316.80" width="4.6" height="153.10" fill="#5f9b88"/>
<rect x="66.87" y="316.80" width="4.6" height="0.00" fill="#e6e6e6"/>
<rect x="66.87" y="316.80" width="4.6" height="153.10" fill="#5f9b88"/>
<rect x="72.49" y="316.80" width="4.6" height="0.00" fill="#e6e6e6"/>
<rect x="72.49" y="316.80" width="4.6" height="153.10" fill="#5f9b88"/>
<rect x="78.11" y="316.80" width="4.6" height="0.00" fill="#e6e6e6"/>
<rect x="78.11" y="316.80" width="4.6" height="153.10" fill="#5f9b88"/>
<rect x="83.73" y="316.80" width="4.6" height="0.00" fill="#e6e6e6"/>
<rect x="83.73" y="316.80" width="4.6" height="153.10" fill="#5f9b88"/>
<rect x="89.35" y="316.80" width="4.6" height="0.00" fill="#e6e6e6"/>
<rect x="89.35" y="316.80" width="4.6" height="153.10" fill="#5f9b88"/>
<rect x="94.97" y="316.80" width="4.6" height="0.00" fill="#e6e6e6"/>
<rect x="94.97" y="316.80" width="4.6" height="153.10" fill="#5f9b88"/>
<rect x="100.59" y="316.80" width="4.6" height="0.00" fill="#e6e6e6"/>
<rect x="100.59" y="316.80" width="4.6" height="153.10" fill="#5f9b88"/>
<rect x="106.21" y="316.80" width="4.6" height="9.80" fill="#e6e6e6"/>
<rect x="106.21" y="326.60" width="4.6" height="1.38" fill="#a4a4a4"/>
<rect x="106.21" y="327.98" width="4.6" height="141.92" fill="#5f9b88"/>
<rect x="111.83" y="316.80" width="4.6" height="23.42" fill="#e6e6e6"/>
<rect x="111.83" y="340.22" width="4.6" height="2.76" fill="#a4a4a4"/>
<rect x="111.83" y="342.98" width="4.6" height="126.15" fill="#5f9b88"/>
<rect x="111.83" y="469.13" width="4.6" height="0.77" fill="#d9d476"/>
<rect x="117.45" y="316.80" width="4.6" height="0.00" fill="#e6e6e6"/>
<rect x="117.45" y="316.80" width="4.6" height="1.84" fill="#a4a4a4"/>
<rect x="117.45" y="318.64" width="4.6" height="150.50" fill="#5f9b88"/>
<rect x="117.45" y="469.13" width="4.6" height="0.77" fill="#d9d476"/>
<rect x="123.07" y="316.80" width="4.6" height="44.40" fill="#e6e6e6"/>
<rect x="123.07" y="361.20" width="4.6" height="21.89" fill="#a4a4a4"/>
<rect x="123.07" y="383.09" width="4.6" height="85.58" fill="#5f9b88"/>
<rect x="123.07" y="468.68" width="4.6" height="1.22" fill="#d9d476"/>
<rect x="128.69" y="316.80" width="4.6" height="0.00" fill="#e6e6e6"/>
<rect x="128.69" y="316.80" width="4.6" height="3.98" fill="#a4a4a4"/>
<rect x="128.69" y="320.78" width="4.6" height="147.28" fill="#5f9b88"/>
<rect x="128.69" y="468.06" width="4.6" height="1.84" fill="#d9d476"/>
<rect x="134.31" y="316.80" width="4.6" height="5.82" fill="#e6e6e6"/>
<rect x="134.31" y="322.62" width="4.6" height="4.44" fill="#a4a4a4"/>
<rect x="134.31" y="327.06" width="4.6" height="139.63" fill="#5f9b88"/>
<rect x="134.31" y="466.68" width="4.6" height="3.22" fill="#d9d476"/>
<rect x="139.93" y="316.80" width="4.6" height="0.00" fill="#e6e6e6"/>
<rect x="139.93" y="316.80" width="4.6" height="3.98" fill="#a4a4a4"/>
<rect x="139.93" y="320.78" width="4.6" height="144.83" fill="#5f9b88"/>
<rect x="139.93" y="465.61" width="4.6" height="4.29" fill="#d9d476"/>
<rect x="145.55" y="316.80" width="4.6" height="20.36" fill="#e6e6e6"/>
<rect x="145.55" y="337.16" width="4.6" height="5.82" fill="#a4a4a4"/>
<rect x="145.55" y="342.98" width="4.6" height="116.82" fill="#5f9b88"/>
<rect x="145.55" y="459.80" width="4.6" height="10.10" fill="#d9d476"/>
<rect x="151.17" y="316.80" width="4.6" height="23.42" fill="#e6e6e6"/>
<rect x="151.17" y="340.22" width="4.6" height="26.49" fill="#a4a4a4"/>
<rect x="151.17" y="366.71" width="4.6" height="87.88" fill="#5f9b88"/>
<rect x="151.17" y="454.59" width="4.6" height="15.31" fill="#d9d476"/>
<rect x="156.79" y="316.80" width="4.6" height="4.44" fill="#e6e6e6"/>
<rect x="156.79" y="321.24" width="4.6" height="11.64" fill="#a4a4a4"/>
<rect x="156.79" y="332.88" width="4.6" height="120.18" fill="#5f9b88"/>
<rect x="156.79" y="453.06" width="4.6" height="16.84" fill="#d9d476"/>
<rect x="162.41" y="316.80" width="4.6" height="28.17" fill="#e6e6e6"/>
<rect x="162.41" y="344.97" width="4.6" height="3.67" fill="#a4a4a4"/>
<rect x="162.41" y="348.64" width="4.6" height="97.83" fill="#5f9b88"/>
<rect x="162.41" y="446.48" width="4.6" height="23.42" fill="#d9d476"/>
<rect x="168.03" y="316.80" width="4.6" height="26.49" fill="#e6e6e6"/>
<rect x="168.03" y="343.29" width="4.6" height="23.12" fill="#a4a4a4"/>
<rect x="168.03" y="366.40" width="4.6" height="31.84" fill="#5f9b88"/>
<rect x="168.03" y="398.25" width="4.6" height="71.65" fill="#d9d476"/>
<text x="29.20" y="473.10" font-size="8.8" text-anchor="end" fill="#262626" font-weight="normal" >0</text>
<text x="29.20" y="442.48" font-size="8.8" text-anchor="end" fill="#262626" font-weight="normal" >0.2</text>
<text x="29.20" y="411.86" font-size="8.8" text-anchor="end" fill="#262626" font-weight="normal" >0.4</text>
<text x="29.20" y="381.24" font-size="8.8" text-anchor="end" fill="#262626" font-weight="normal" >0.6</text>
<text x="29.20" y="350.62" font-size="8.8" text-anchor="end" fill="#262626" font-weight="normal" >0.8</text>
<text x="29.20" y="320.00" font-size="8.8" text-anchor="end" fill="#262626" font-weight="normal" >1</text>
<text x="57.90" y="483.20" font-size="8.8" text-anchor="middle" fill="#262626" font-weight="normal" >5</text>
<text x="85.90" y="483.20" font-size="8.8" text-anchor="middle" fill="#262626" font-weight="normal" >10</text>
<text x="113.90" y="483.20" font-size="8.8" text-anchor="middle" fill="#262626" font-weight="normal" >15</text>
<text x="141.90" y="483.20" font-size="8.8" text-anchor="middle" fill="#262626" font-weight="normal" >20</text>
<text x="169.90" y="483.20" font-size="8.8" text-anchor="middle" fill="#262626" font-weight="normal" >25</text>
<text x="102.70" y="493.60" font-size="9.5" text-anchor="middle" fill="#262626" font-weight="normal" >Replicates</text>
<text x="0" y="0" font-size="9.5" text-anchor="middle" fill="#262626" transform="translate(12.3 394.3) rotate(-90)">% Cell type</text>
<clipPath id="clipd0"><rect x="278.6" y="315.2" width="141.0" height="155.2"/></clipPath>
<circle cx="312.50" cy="464.48" r="2.9" fill="#d9d476" fill-opacity="0.3"/>
<circle cx="315.50" cy="466.70" r="2.9" fill="#d9d476" fill-opacity="0.3"/>
<circle cx="313.80" cy="465.22" r="2.9" fill="#d9d476" fill-opacity="0.3"/>
<circle cx="316.80" cy="469.66" r="2.9" fill="#d9d476" fill-opacity="0.3"/>
<circle cx="310.80" cy="467.44" r="2.9" fill="#d9d476" fill-opacity="0.3"/>
<circle cx="314.60" cy="470.40" r="2.9" fill="#d9d476" fill-opacity="0.3"/>
<circle cx="312.80" cy="468.62" r="2.9" fill="#d9d476" fill-opacity="0.3"/>
<circle cx="313.60" cy="368.66" r="2.9" fill="#d9d476" fill-opacity="0.3"/>
<circle cx="313.20" cy="439.89" r="2.9" fill="#d9d476" fill-opacity="0.3"/>
<circle cx="316.00" cy="446.26" r="2.9" fill="#d9d476" fill-opacity="0.3"/>
<circle cx="314.30" cy="450.26" r="2.9" fill="#d9d476" fill-opacity="0.3"/>
<circle cx="315.50" cy="455.74" r="2.9" fill="#d9d476" fill-opacity="0.3"/>
<circle cx="311.50" cy="465.96" r="2.9" fill="#d9d476" fill-opacity="0.3"/>
<circle cx="316.00" cy="467.44" r="2.9" fill="#d9d476" fill-opacity="0.3"/>
<circle cx="310.50" cy="468.92" r="2.9" fill="#d9d476" fill-opacity="0.3"/>
<circle cx="313.00" cy="470.40" r="2.9" fill="#d9d476" fill-opacity="0.3"/>
<circle cx="315.00" cy="469.66" r="2.9" fill="#d9d476" fill-opacity="0.3"/>
<circle cx="312.00" cy="470.40" r="2.9" fill="#d9d476" fill-opacity="0.3"/>
<circle cx="317.00" cy="470.40" r="2.9" fill="#d9d476" fill-opacity="0.3"/>
<circle cx="314.00" cy="468.18" r="2.9" fill="#d9d476" fill-opacity="0.3"/>
<circle cx="311.00" cy="470.40" r="2.9" fill="#d9d476" fill-opacity="0.3"/>
<circle cx="316.50" cy="468.92" r="2.9" fill="#d9d476" fill-opacity="0.3"/>
<circle cx="382.30" cy="323.78" r="2.9" fill="#5f9b88" fill-opacity="0.3"/>
<circle cx="385.90" cy="324.52" r="2.9" fill="#5f9b88" fill-opacity="0.3"/>
<circle cx="383.80" cy="327.48" r="2.9" fill="#5f9b88" fill-opacity="0.3"/>
<circle cx="382.50" cy="326.00" r="2.9" fill="#5f9b88" fill-opacity="0.3"/>
<circle cx="386.00" cy="326.74" r="2.9" fill="#5f9b88" fill-opacity="0.3"/>
<circle cx="384.50" cy="323.04" r="2.9" fill="#5f9b88" fill-opacity="0.3"/>
<circle cx="383.20" cy="322.30" r="2.9" fill="#5f9b88" fill-opacity="0.3"/>
<circle cx="385.20" cy="325.26" r="2.9" fill="#5f9b88" fill-opacity="0.3"/>
<circle cx="381.70" cy="322.30" r="2.9" fill="#5f9b88" fill-opacity="0.3"/>
<circle cx="386.60" cy="322.30" r="2.9" fill="#5f9b88" fill-opacity="0.3"/>
<circle cx="384.10" cy="322.30" r="2.9" fill="#5f9b88" fill-opacity="0.3"/>
<circle cx="383.00" cy="323.04" r="2.9" fill="#5f9b88" fill-opacity="0.3"/>
<circle cx="385.50" cy="323.78" r="2.9" fill="#5f9b88" fill-opacity="0.3"/>
<circle cx="382.50" cy="322.30" r="2.9" fill="#5f9b88" fill-opacity="0.3"/>
<circle cx="385.00" cy="322.30" r="2.9" fill="#5f9b88" fill-opacity="0.3"/>
<circle cx="384.00" cy="328.67" r="2.9" fill="#5f9b88" fill-opacity="0.3"/>
<circle cx="382.90" cy="335.63" r="2.9" fill="#5f9b88" fill-opacity="0.3"/>
<circle cx="384.10" cy="340.81" r="2.9" fill="#5f9b88" fill-opacity="0.3"/>
<circle cx="381.50" cy="345.26" r="2.9" fill="#5f9b88" fill-opacity="0.3"/>
<circle cx="384.70" cy="351.92" r="2.9" fill="#5f9b88" fill-opacity="0.3"/>
<circle cx="385.80" cy="423.01" r="2.9" fill="#5f9b88" fill-opacity="0.3"/>
<g clip-path="url(#clipd0)">
<line x1="331.5" y1="482.25" x2="331.5" y2="440.78" stroke="#d9d476" stroke-width="2.7"/>
<line x1="328.1" y1="482.25" x2="334.9" y2="482.25" stroke="#d9d476" stroke-width="2.7"/>
<line x1="328.1" y1="440.78" x2="334.9" y2="440.78" stroke="#d9d476" stroke-width="2.7"/>
<circle cx="331.5" cy="461.22" r="3.1" fill="none" stroke="#d9d476" stroke-width="1.9"/>
<line x1="401.9" y1="351.33" x2="401.9" y2="308.97" stroke="#5f9b88" stroke-width="2.7"/>
<line x1="398.5" y1="351.33" x2="405.29999999999995" y2="351.33" stroke="#5f9b88" stroke-width="2.7"/>
<line x1="398.5" y1="308.97" x2="405.29999999999995" y2="308.97" stroke="#5f9b88" stroke-width="2.7"/>
<circle cx="401.9" cy="330.00" r="3.1" fill="none" stroke="#5f9b88" stroke-width="1.9"/>
</g>
<rect x="278.6" y="315.2" width="141.0" height="155.2" fill="none" stroke="#3a3a3a" stroke-width="0.9"/>
<line x1="278.6" y1="470.40" x2="280.20000000000005" y2="470.40" stroke="#3a3a3a" stroke-width="0.9"/>
<line x1="418.0" y1="470.40" x2="419.6" y2="470.40" stroke="#3a3a3a" stroke-width="0.9"/>
<text x="273.40" y="473.60" font-size="8.8" text-anchor="end" fill="#262626" font-weight="normal" >0</text>
<line x1="278.6" y1="440.78" x2="280.20000000000005" y2="440.78" stroke="#3a3a3a" stroke-width="0.9"/>
<line x1="418.0" y1="440.78" x2="419.6" y2="440.78" stroke="#3a3a3a" stroke-width="0.9"/>
<text x="273.40" y="443.98" font-size="8.8" text-anchor="end" fill="#262626" font-weight="normal" >0.2</text>
<line x1="278.6" y1="411.16" x2="280.20000000000005" y2="411.16" stroke="#3a3a3a" stroke-width="0.9"/>
<line x1="418.0" y1="411.16" x2="419.6" y2="411.16" stroke="#3a3a3a" stroke-width="0.9"/>
<text x="273.40" y="414.36" font-size="8.8" text-anchor="end" fill="#262626" font-weight="normal" >0.4</text>
<line x1="278.6" y1="381.54" x2="280.20000000000005" y2="381.54" stroke="#3a3a3a" stroke-width="0.9"/>
<line x1="418.0" y1="381.54" x2="419.6" y2="381.54" stroke="#3a3a3a" stroke-width="0.9"/>
<text x="273.40" y="384.74" font-size="8.8" text-anchor="end" fill="#262626" font-weight="normal" >0.6</text>
<line x1="278.6" y1="351.92" x2="280.20000000000005" y2="351.92" stroke="#3a3a3a" stroke-width="0.9"/>
<line x1="418.0" y1="351.92" x2="419.6" y2="351.92" stroke="#3a3a3a" stroke-width="0.9"/>
<text x="273.40" y="355.12" font-size="8.8" text-anchor="end" fill="#262626" font-weight="normal" >0.8</text>
<line x1="278.6" y1="322.30" x2="280.20000000000005" y2="322.30" stroke="#3a3a3a" stroke-width="0.9"/>
<line x1="418.0" y1="322.30" x2="419.6" y2="322.30" stroke="#3a3a3a" stroke-width="0.9"/>
<text x="273.40" y="325.50" font-size="8.8" text-anchor="end" fill="#262626" font-weight="normal" >1</text>
<line x1="313.4" y1="315.2" x2="313.4" y2="316.8" stroke="#3a3a3a" stroke-width="0.9"/>
<line x1="313.4" y1="470.4" x2="313.4" y2="468.79999999999995" stroke="#3a3a3a" stroke-width="0.9"/>
<line x1="384.3" y1="315.2" x2="384.3" y2="316.8" stroke="#3a3a3a" stroke-width="0.9"/>
<line x1="384.3" y1="470.4" x2="384.3" y2="468.79999999999995" stroke="#3a3a3a" stroke-width="0.9"/>
<text x="0" y="0" font-size="9.5" text-anchor="middle" fill="#262626" transform="translate(258.3 394.3) rotate(-90)">% Hosts</text>
<circle cx="294.1" cy="306.4" r="5.1" fill="none" stroke="#d9d476" stroke-width="1.1"/>
<text x="300.80" y="310.50" font-size="8.4" text-anchor="start" fill="#262626" font-weight="normal" >pCONn-U</text>
<circle cx="365.6" cy="306.4" r="5.1" fill="none" stroke="#5f9b88" stroke-width="1.4"/>
<text x="373.40" y="310.50" font-size="8.4" text-anchor="start" fill="#262626" font-weight="normal" >pCONc-S</text>
<clipPath id="clipd244"><rect x="523.3" y="315.2" width="141.0" height="155.2"/></clipPath>
<circle cx="557.10" cy="322.30" r="2.9" fill="#d9d476" fill-opacity="0.3"/>
<circle cx="555.40" cy="368.21" r="2.9" fill="#d9d476" fill-opacity="0.3"/>
<circle cx="555.40" cy="381.54" r="2.9" fill="#d9d476" fill-opacity="0.3"/>
<circle cx="553.00" cy="470.40" r="2.9" fill="#d9d476" fill-opacity="0.3"/>
<circle cx="555.00" cy="470.40" r="2.9" fill="#d9d476" fill-opacity="0.3"/>
<circle cx="557.00" cy="470.40" r="2.9" fill="#d9d476" fill-opacity="0.3"/>
<circle cx="559.00" cy="470.40" r="2.9" fill="#d9d476" fill-opacity="0.3"/>
<circle cx="561.00" cy="470.40" r="2.9" fill="#d9d476" fill-opacity="0.3"/>
<circle cx="554.00" cy="470.40" r="2.9" fill="#d9d476" fill-opacity="0.3"/>
<circle cx="556.00" cy="470.40" r="2.9" fill="#d9d476" fill-opacity="0.3"/>
<circle cx="558.00" cy="470.40" r="2.9" fill="#d9d476" fill-opacity="0.3"/>
<circle cx="560.00" cy="470.40" r="2.9" fill="#d9d476" fill-opacity="0.3"/>
<circle cx="553.50" cy="469.81" r="2.9" fill="#d9d476" fill-opacity="0.3"/>
<circle cx="558.50" cy="469.96" r="2.9" fill="#d9d476" fill-opacity="0.3"/>
<circle cx="625.20" cy="322.30" r="2.9" fill="#5f9b88" fill-opacity="0.3"/>
<circle cx="626.50" cy="322.30" r="2.9" fill="#5f9b88" fill-opacity="0.3"/>
<circle cx="628.00" cy="322.30" r="2.9" fill="#5f9b88" fill-opacity="0.3"/>
<circle cx="629.50" cy="322.30" r="2.9" fill="#5f9b88" fill-opacity="0.3"/>
<circle cx="631.00" cy="322.30" r="2.9" fill="#5f9b88" fill-opacity="0.3"/>
<circle cx="632.20" cy="322.30" r="2.9" fill="#5f9b88" fill-opacity="0.3"/>
<circle cx="627.20" cy="322.30" r="2.9" fill="#5f9b88" fill-opacity="0.3"/>
<circle cx="630.50" cy="322.30" r="2.9" fill="#5f9b88" fill-opacity="0.3"/>
<circle cx="626.00" cy="322.30" r="2.9" fill="#5f9b88" fill-opacity="0.3"/>
<circle cx="631.60" cy="322.30" r="2.9" fill="#5f9b88" fill-opacity="0.3"/>
<circle cx="629.00" cy="410.12" r="2.9" fill="#5f9b88" fill-opacity="0.3"/>
<circle cx="630.70" cy="423.75" r="2.9" fill="#5f9b88" fill-opacity="0.3"/>
<circle cx="629.70" cy="470.40" r="2.9" fill="#5f9b88" fill-opacity="0.3"/>
<g clip-path="url(#clipd244)">
<line x1="575.7" y1="511.87" x2="575.7" y2="359.77" stroke="#d9d476" stroke-width="2.7"/>
<line x1="572.3000000000001" y1="511.87" x2="579.1" y2="511.87" stroke="#d9d476" stroke-width="2.7"/>
<line x1="572.3000000000001" y1="359.77" x2="579.1" y2="359.77" stroke="#d9d476" stroke-width="2.7"/>
<circle cx="575.7" cy="436.19" r="3.1" fill="none" stroke="#d9d476" stroke-width="1.9"/>
<line x1="646.3" y1="431.75" x2="646.3" y2="277.87" stroke="#5f9b88" stroke-width="2.7"/>
<line x1="642.9" y1="431.75" x2="649.6999999999999" y2="431.75" stroke="#5f9b88" stroke-width="2.7"/>
<line x1="642.9" y1="277.87" x2="649.6999999999999" y2="277.87" stroke="#5f9b88" stroke-width="2.7"/>
<circle cx="646.3" cy="355.33" r="3.1" fill="none" stroke="#5f9b88" stroke-width="1.9"/>
</g>
<rect x="523.3" y="315.2" width="141.0" height="155.2" fill="none" stroke="#3a3a3a" stroke-width="0.9"/>
<line x1="523.3" y1="470.40" x2="524.9" y2="470.40" stroke="#3a3a3a" stroke-width="0.9"/>
<line x1="662.6999999999999" y1="470.40" x2="664.3" y2="470.40" stroke="#3a3a3a" stroke-width="0.9"/>
<text x="518.10" y="473.60" font-size="8.8" text-anchor="end" fill="#262626" font-weight="normal" >0</text>
<line x1="523.3" y1="440.78" x2="524.9" y2="440.78" stroke="#3a3a3a" stroke-width="0.9"/>
<line x1="662.6999999999999" y1="440.78" x2="664.3" y2="440.78" stroke="#3a3a3a" stroke-width="0.9"/>
<text x="518.10" y="443.98" font-size="8.8" text-anchor="end" fill="#262626" font-weight="normal" >0.2</text>
<line x1="523.3" y1="411.16" x2="524.9" y2="411.16" stroke="#3a3a3a" stroke-width="0.9"/>
<line x1="662.6999999999999" y1="411.16" x2="664.3" y2="411.16" stroke="#3a3a3a" stroke-width="0.9"/>
<text x="518.10" y="414.36" font-size="8.8" text-anchor="end" fill="#262626" font-weight="normal" >0.4</text>
<line x1="523.3" y1="381.54" x2="524.9" y2="381.54" stroke="#3a3a3a" stroke-width="0.9"/>
<line x1="662.6999999999999" y1="381.54" x2="664.3" y2="381.54" stroke="#3a3a3a" stroke-width="0.9"/>
<text x="518.10" y="384.74" font-size="8.8" text-anchor="end" fill="#262626" font-weight="normal" >0.6</text>
<line x1="523.3" y1="351.92" x2="524.9" y2="351.92" stroke="#3a3a3a" stroke-width="0.9"/>
<line x1="662.6999999999999" y1="351.92" x2="664.3" y2="351.92" stroke="#3a3a3a" stroke-width="0.9"/>
<text x="518.10" y="355.12" font-size="8.8" text-anchor="end" fill="#262626" font-weight="normal" >0.8</text>
<line x1="523.3" y1="322.30" x2="524.9" y2="322.30" stroke="#3a3a3a" stroke-width="0.9"/>
<line x1="662.6999999999999" y1="322.30" x2="664.3" y2="322.30" stroke="#3a3a3a" stroke-width="0.9"/>
<text x="518.10" y="325.50" font-size="8.8" text-anchor="end" fill="#262626" font-weight="normal" >1</text>
<line x1="558.0999999999999" y1="315.2" x2="558.0999999999999" y2="316.8" stroke="#3a3a3a" stroke-width="0.9"/>
<line x1="558.0999999999999" y1="470.4" x2="558.0999999999999" y2="468.79999999999995" stroke="#3a3a3a" stroke-width="0.9"/>
<line x1="629.0" y1="315.2" x2="629.0" y2="316.8" stroke="#3a3a3a" stroke-width="0.9"/>
<line x1="629.0" y1="470.4" x2="629.0" y2="468.79999999999995" stroke="#3a3a3a" stroke-width="0.9"/>
<text x="0" y="0" font-size="9.5" text-anchor="middle" fill="#262626" transform="translate(503.0 394.3) rotate(-90)">% Hosts</text>
<circle cx="538.8" cy="306.4" r="5.1" fill="none" stroke="#d9d476" stroke-width="1.1"/>
<text x="545.50" y="310.50" font-size="8.4" text-anchor="start" fill="#262626" font-weight="normal" >pCONc-U</text>
<circle cx="610.3" cy="306.4" r="5.1" fill="none" stroke="#5f9b88" stroke-width="1.4"/>
<text x="618.10" y="310.50" font-size="8.4" text-anchor="start" fill="#262626" font-weight="normal" >pCONn-S</text></svg></body></html>
